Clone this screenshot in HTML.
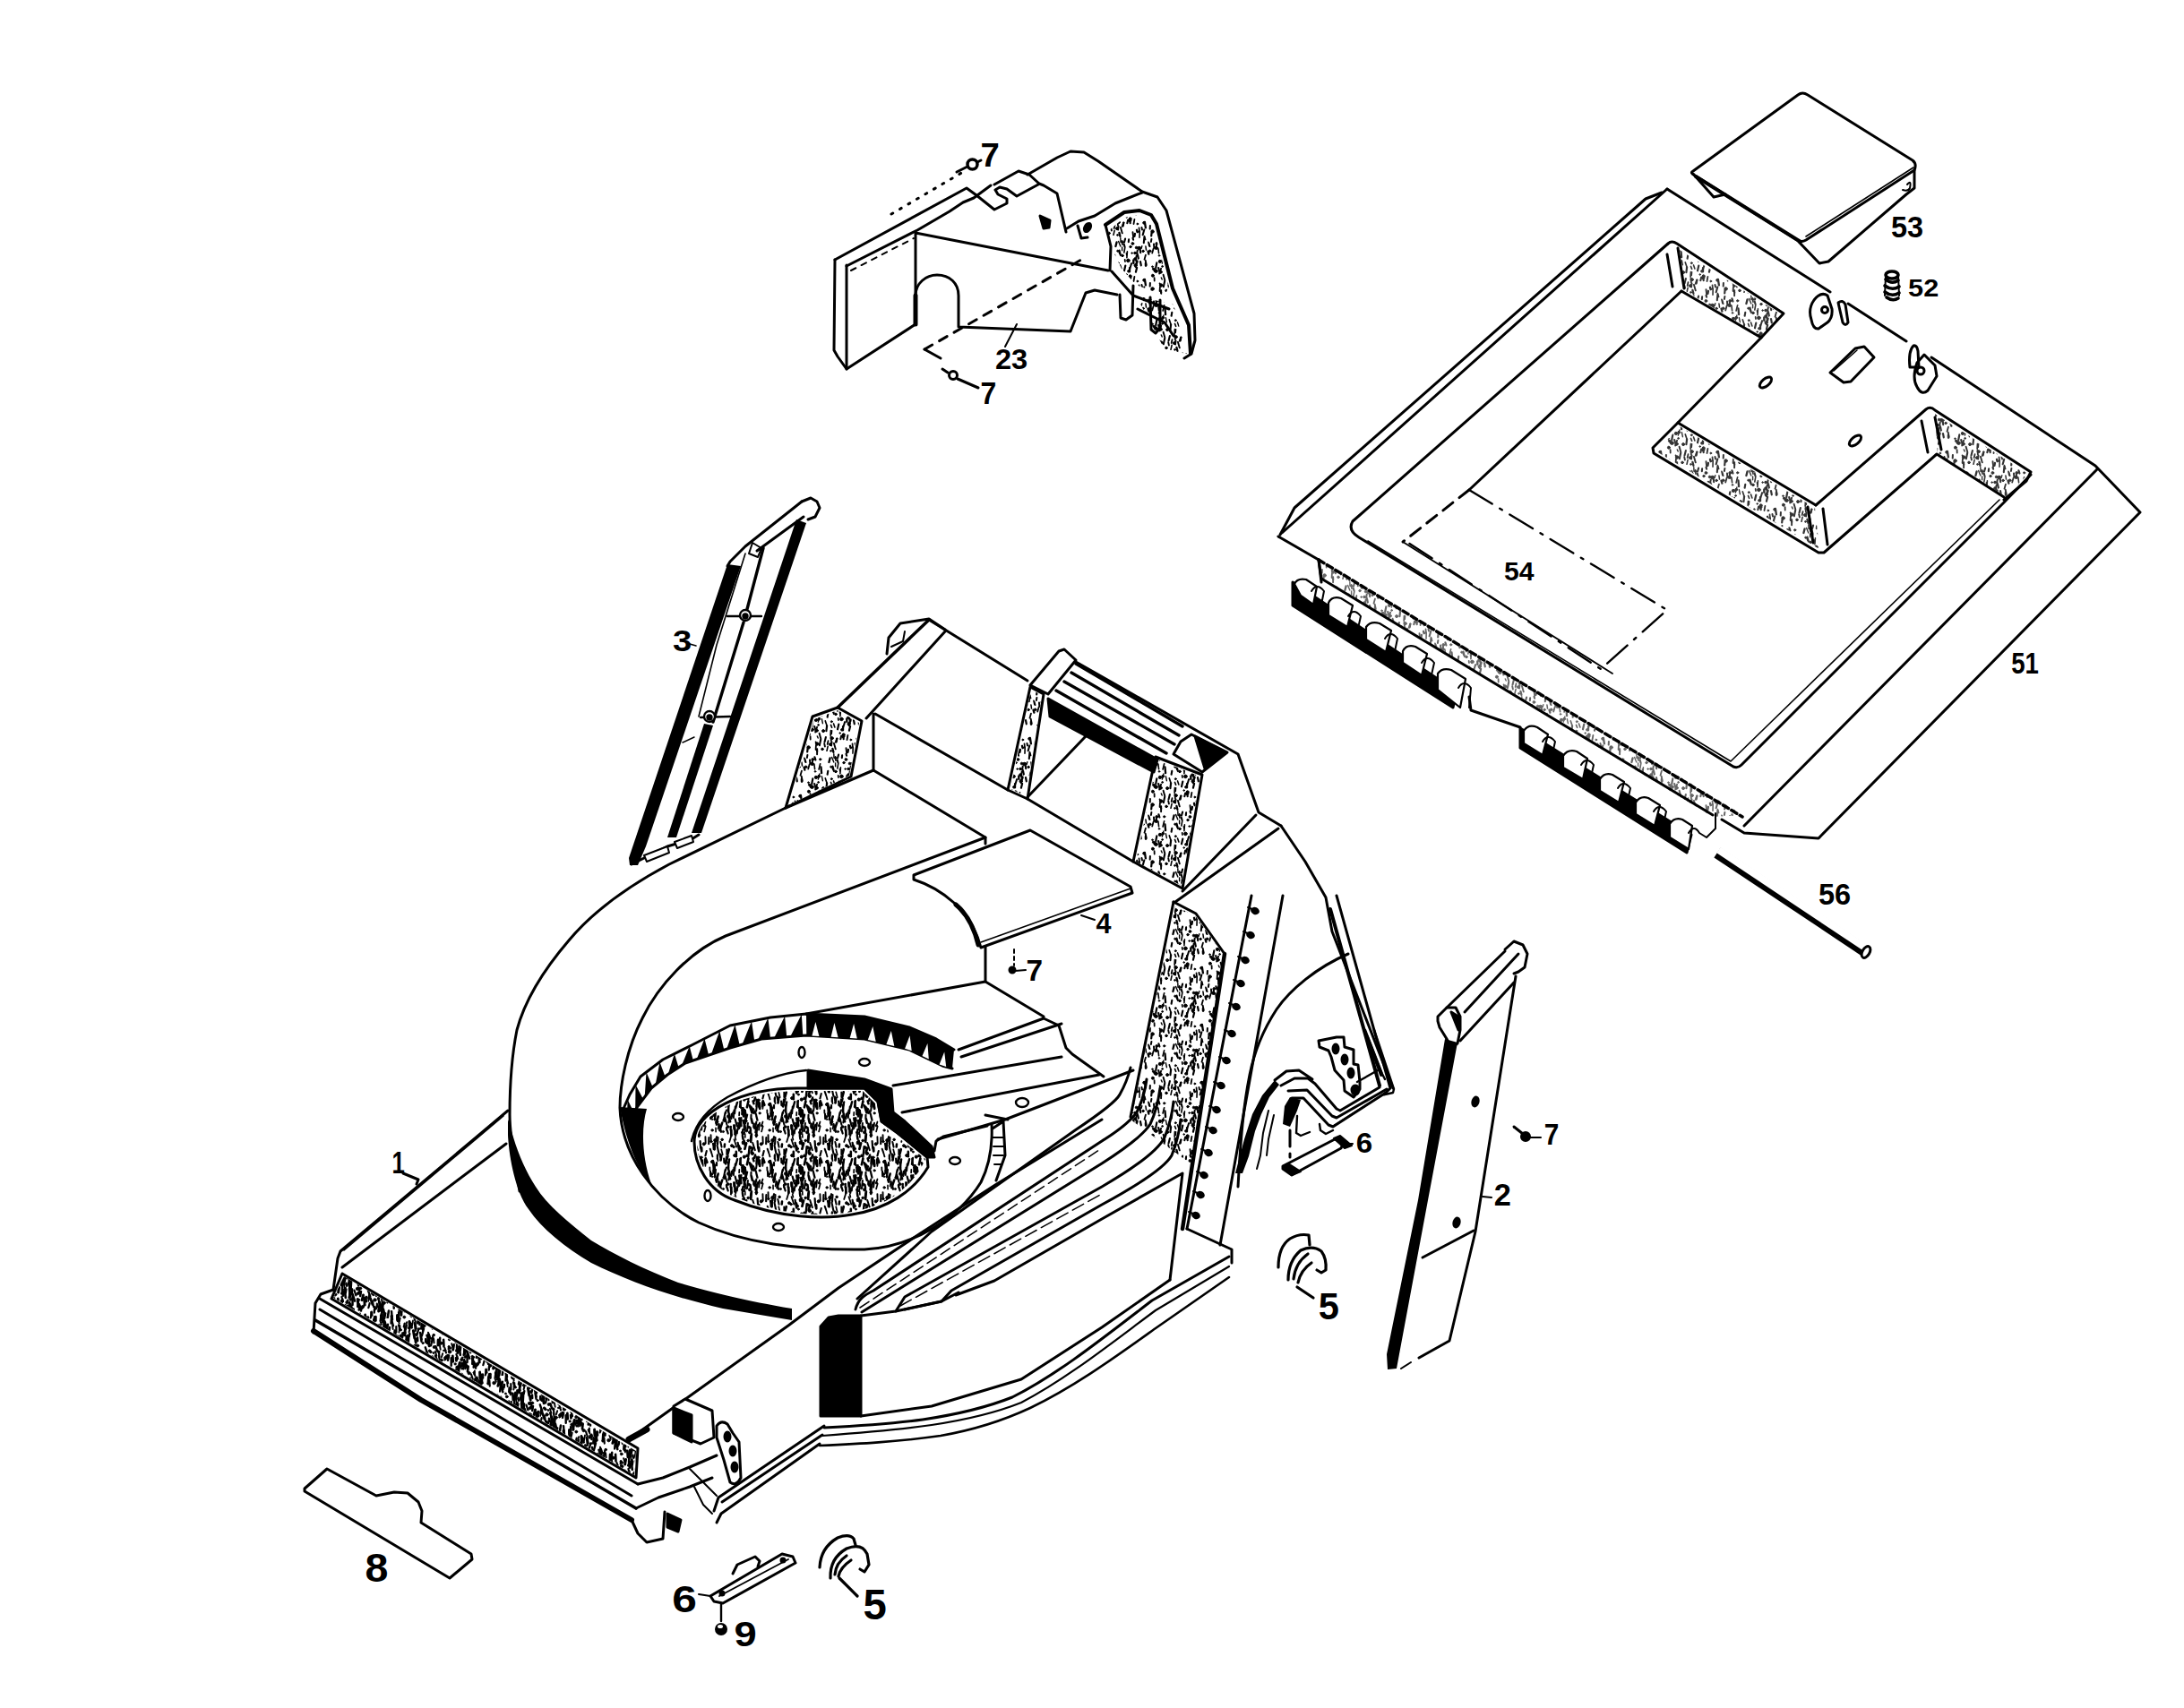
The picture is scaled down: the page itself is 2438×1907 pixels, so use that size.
<!DOCTYPE html>
<html><head><meta charset="utf-8"><style>
html,body{margin:0;padding:0;background:#fff;}
svg{display:block;}
text{font-family:"Liberation Sans",sans-serif;font-weight:bold;fill:#000;}
</style></head><body>
<svg width="2438" height="1907" viewBox="0 0 2438 1907" xmlns="http://www.w3.org/2000/svg">
<defs>
<pattern id="st" width="64" height="64" patternUnits="userSpaceOnUse"><g fill="#000" stroke="#000" stroke-linecap="round"><path d="M8.6,54.2L8.7,57.5" stroke-width="1.8"/><circle cx="41.7" cy="50.5" r="0.8"/><path d="M53.5,27.7L53.6,29.7" stroke-width="2.1"/><path d="M14.6,-3.5L15.4,-1.5" stroke-width="1.9"/><path d="M14.6,60.5L15.4,62.5" stroke-width="1.9"/><circle cx="60.1" cy="24.4" r="1.2"/><path d="M1.9,14.2L2.8,18.6" stroke-width="1.6"/><path d="M65.9,14.2L66.8,18.6" stroke-width="1.6"/><circle cx="14.0" cy="29.4" r="0.8"/><path d="M53.6,35.6L52.7,38.4" stroke-width="2.3"/><path d="M7.7,21.3L6.2,26.6" stroke-width="1.8"/><path d="M71.7,21.3L70.2,26.6" stroke-width="1.8"/><path d="M53.1,42.9L51.9,47.7" stroke-width="2.2"/><circle cx="32.3" cy="37.7" r="1.0"/><circle cx="51.0" cy="26.5" r="1.3"/><path d="M45.0,43.2L45.1,47.4" stroke-width="2.2"/><path d="M33.3,25.2L34.1,27.2" stroke-width="2.1"/><path d="M-1.1,38.0L-1.0,40.8" stroke-width="2.4"/><path d="M62.9,38.0L63.0,40.8" stroke-width="2.4"/><path d="M49.3,34.5L49.3,37.7" stroke-width="2.4"/><circle cx="37.0" cy="29.4" r="1.3"/><path d="M-2.7,0.4L-4.3,6.3" stroke-width="2.1"/><path d="M-2.7,64.4L-4.3,70.3" stroke-width="2.1"/><path d="M61.3,0.4L59.7,6.3" stroke-width="2.1"/><path d="M61.3,64.4L59.7,70.3" stroke-width="2.1"/><path d="M51.8,33.2L53.1,37.1" stroke-width="2.3"/><path d="M36.5,12.8L37.0,17.2" stroke-width="1.7"/><path d="M34.5,39.9L35.9,43.9" stroke-width="1.6"/><path d="M11.3,37.4L10.2,43.3" stroke-width="2.2"/><path d="M16.3,53.9L17.2,56.1" stroke-width="1.4"/><circle cx="48.4" cy="16.0" r="1.4"/><circle cx="22.0" cy="4.4" r="1.3"/><path d="M10.8,17.5L11.4,21.7" stroke-width="1.9"/><path d="M1.5,24.7L2.4,27.6" stroke-width="2.3"/><path d="M65.5,24.7L66.4,27.6" stroke-width="2.3"/><path d="M32.6,13.4L34.8,19.1" stroke-width="1.4"/><circle cx="9.4" cy="46.0" r="1.5"/><circle cx="43.4" cy="34.9" r="1.8"/><circle cx="51.1" cy="33.1" r="1.4"/><path d="M25.3,36.9L26.9,41.7" stroke-width="1.7"/><path d="M-2.1,-8.0L-1.1,-1.7" stroke-width="2.3"/><path d="M-2.1,56.0L-1.1,62.3" stroke-width="2.3"/><path d="M61.9,-8.0L62.9,-1.7" stroke-width="2.3"/><path d="M61.9,56.0L62.9,62.3" stroke-width="2.3"/><circle cx="47.6" cy="26.6" r="0.8"/><path d="M-7.8,2.4L-8.0,9.2" stroke-width="1.6"/><path d="M-7.8,66.4L-8.0,73.2" stroke-width="1.6"/><path d="M56.2,2.4L56.0,9.2" stroke-width="1.6"/><path d="M56.2,66.4L56.0,73.2" stroke-width="1.6"/><path d="M55.5,-1.7L56.0,2.8" stroke-width="1.7"/><path d="M55.5,62.3L56.0,66.8" stroke-width="1.7"/><path d="M13.2,43.1L14.0,46.0" stroke-width="2.1"/><path d="M18.9,32.0L17.3,38.1" stroke-width="1.4"/><path d="M12.9,21.0L13.6,26.8" stroke-width="1.6"/><path d="M43.2,53.6L42.3,57.2" stroke-width="2.1"/><circle cx="31.0" cy="-0.9" r="1.5"/><circle cx="31.0" cy="63.1" r="1.5"/><path d="M5.4,10.9L4.9,13.9" stroke-width="2.0"/><path d="M69.4,10.9L68.9,13.9" stroke-width="2.0"/><path d="M53.8,23.6L53.0,26.9" stroke-width="2.0"/><circle cx="-2.9" cy="56.8" r="1.4"/><circle cx="61.1" cy="56.8" r="1.4"/><circle cx="6.7" cy="2.5" r="1.7"/><circle cx="6.7" cy="66.5" r="1.7"/><path d="M50.4,53.0L49.5,58.0" stroke-width="1.8"/><circle cx="36.5" cy="14.3" r="1.1"/><path d="M-7.0,36.1L-6.2,40.3" stroke-width="2.2"/><path d="M57.0,36.1L57.8,40.3" stroke-width="2.2"/><path d="M53.0,0.8L53.7,3.1" stroke-width="2.3"/><path d="M53.0,64.8L53.7,67.1" stroke-width="2.3"/><path d="M2.6,15.3L3.7,19.3" stroke-width="1.6"/><path d="M66.6,15.3L67.7,19.3" stroke-width="1.6"/><circle cx="15.5" cy="47.6" r="1.7"/><path d="M24.2,-1.9L24.9,1.5" stroke-width="1.9"/><path d="M24.2,62.1L24.9,65.5" stroke-width="1.9"/><circle cx="6.4" cy="41.7" r="0.8"/><path d="M-1.1,18.9L-0.5,23.1" stroke-width="1.5"/><path d="M62.9,18.9L63.5,23.1" stroke-width="1.5"/><path d="M-5.5,-1.9L-5.0,0.6" stroke-width="2.0"/><path d="M-5.5,62.1L-5.0,64.6" stroke-width="2.0"/><path d="M58.5,-1.9L59.0,0.6" stroke-width="2.0"/><path d="M58.5,62.1L59.0,64.6" stroke-width="2.0"/><path d="M-1.3,34.7L-0.3,40.0" stroke-width="1.9"/><path d="M62.7,34.7L63.7,40.0" stroke-width="1.9"/><circle cx="19.7" cy="15.8" r="1.1"/><path d="M-1.1,28.7L-2.5,33.7" stroke-width="1.8"/><path d="M62.9,28.7L61.5,33.7" stroke-width="1.8"/><path d="M19.6,20.9L18.1,27.0" stroke-width="1.7"/><path d="M21.4,34.8L22.4,39.7" stroke-width="1.4"/><path d="M15.6,4.6L16.3,6.9" stroke-width="2.0"/><path d="M15.6,68.6L16.3,70.9" stroke-width="2.0"/><path d="M18.6,50.7L20.3,56.8" stroke-width="1.9"/><path d="M50.9,4.9L50.4,7.8" stroke-width="2.4"/><path d="M50.9,68.9L50.4,71.8" stroke-width="2.4"/><circle cx="52.6" cy="20.5" r="1.3"/><path d="M-5.2,18.8L-5.9,21.4" stroke-width="1.4"/><path d="M58.8,18.8L58.1,21.4" stroke-width="1.4"/><path d="M20.2,-6.2L18.8,0.2" stroke-width="2.1"/><path d="M20.2,57.8L18.8,64.2" stroke-width="2.1"/><path d="M44.1,11.4L43.8,14.2" stroke-width="2.1"/><path d="M16.2,4.1L16.1,10.2" stroke-width="1.9"/><path d="M16.2,68.1L16.1,74.2" stroke-width="1.9"/><path d="M54.5,29.0L55.2,32.6" stroke-width="1.4"/><path d="M41.4,26.7L41.7,29.0" stroke-width="1.5"/><path d="M8.0,16.6L8.4,20.6" stroke-width="2.0"/><path d="M14.9,0.5L14.6,5.0" stroke-width="1.8"/><path d="M14.9,64.5L14.6,69.0" stroke-width="1.8"/><circle cx="43.9" cy="46.8" r="1.3"/><path d="M30.6,14.4L29.4,19.0" stroke-width="2.3"/><circle cx="17.6" cy="41.4" r="0.9"/><circle cx="32.7" cy="56.2" r="1.6"/><path d="M-7.5,20.0L-6.8,26.2" stroke-width="2.1"/><path d="M56.5,20.0L57.2,26.2" stroke-width="2.1"/><path d="M47.1,38.1L45.2,44.2" stroke-width="2.0"/><circle cx="11.3" cy="16.0" r="1.4"/><path d="M48.5,3.3L49.2,8.9" stroke-width="1.9"/><path d="M48.5,67.3L49.2,72.9" stroke-width="1.9"/><circle cx="10.5" cy="46.7" r="1.8"/><circle cx="51.7" cy="40.2" r="1.7"/><path d="M-2.6,8.9L-3.2,15.1" stroke-width="2.1"/><path d="M61.4,8.9L60.8,15.1" stroke-width="2.1"/><path d="M28.5,-4.8L27.7,-1.0" stroke-width="1.8"/><path d="M28.5,59.2L27.7,63.0" stroke-width="1.8"/><circle cx="10.5" cy="20.8" r="1.7"/><path d="M-2.6,7.6L-1.4,11.5" stroke-width="1.7"/><path d="M-2.6,71.6L-1.4,75.5" stroke-width="1.7"/><path d="M61.4,7.6L62.6,11.5" stroke-width="1.7"/><path d="M61.4,71.6L62.6,75.5" stroke-width="1.7"/><circle cx="15.9" cy="48.0" r="1.0"/><path d="M28.1,1.3L27.0,6.3" stroke-width="1.6"/><path d="M28.1,65.3L27.0,70.3" stroke-width="1.6"/><circle cx="18.2" cy="34.7" r="1.4"/><path d="M16.1,43.7L14.2,49.5" stroke-width="1.9"/><path d="M31.4,54.8L31.9,59.6" stroke-width="1.7"/><circle cx="6.9" cy="51.7" r="1.5"/><path d="M34.9,-2.2L36.8,4.4" stroke-width="1.9"/><path d="M34.9,61.8L36.8,68.4" stroke-width="1.9"/><path d="M36.6,19.9L36.6,23.7" stroke-width="1.4"/><path d="M28.3,28.8L27.6,32.7" stroke-width="2.1"/><path d="M31.5,41.5L32.6,44.3" stroke-width="1.7"/><path d="M38.3,-7.6L36.8,-3.3" stroke-width="1.9"/><path d="M38.3,56.4L36.8,60.7" stroke-width="1.9"/><path d="M53.4,26.2L54.5,33.0" stroke-width="1.6"/><path d="M39.7,34.0L39.9,36.0" stroke-width="1.8"/><path d="M25.9,55.1L24.5,60.6" stroke-width="2.1"/><path d="M31.5,47.7L31.2,53.0" stroke-width="1.8"/><path d="M40.3,40.6L39.0,46.3" stroke-width="2.2"/><path d="M52.2,38.7L51.8,42.0" stroke-width="2.3"/><path d="M34.8,9.7L35.0,14.2" stroke-width="1.4"/><path d="M32.7,47.7L32.3,51.4" stroke-width="1.4"/><path d="M32.5,-3.4L32.0,0.5" stroke-width="2.0"/><path d="M32.5,60.6L32.0,64.5" stroke-width="2.0"/><path d="M13.4,13.3L14.4,16.5" stroke-width="2.2"/><path d="M33.5,23.6L34.9,29.1" stroke-width="2.1"/><circle cx="45.7" cy="52.2" r="1.4"/><circle cx="14.9" cy="35.9" r="1.6"/><circle cx="55.5" cy="21.1" r="1.8"/><circle cx="45.2" cy="54.0" r="1.7"/><path d="M39.8,20.3L38.8,26.0" stroke-width="1.6"/><path d="M40.1,10.6L38.9,14.7" stroke-width="2.1"/><path d="M38.8,16.8L39.5,19.4" stroke-width="2.1"/><circle cx="23.1" cy="48.1" r="1.5"/><circle cx="46.0" cy="19.6" r="1.2"/><circle cx="31.5" cy="6.4" r="0.9"/><circle cx="38.2" cy="56.9" r="0.8"/><path d="M45.1,52.2L45.7,57.2" stroke-width="2.2"/><circle cx="7.6" cy="44.3" r="1.2"/><circle cx="31.7" cy="24.2" r="1.0"/><path d="M52.5,29.6L52.1,32.6" stroke-width="1.7"/><path d="M38.0,-5.8L37.6,-3.6" stroke-width="2.3"/><path d="M38.0,58.2L37.6,60.4" stroke-width="2.3"/><path d="M20.5,24.5L21.1,31.1" stroke-width="2.3"/><path d="M48.5,9.7L49.1,11.7" stroke-width="2.1"/><circle cx="3.7" cy="24.3" r="1.3"/><circle cx="53.8" cy="58.0" r="0.9"/><circle cx="53.8" cy="2.7" r="0.9"/><circle cx="53.8" cy="66.7" r="0.9"/><path d="M5.8,1.8L5.2,7.5" stroke-width="2.2"/><path d="M5.8,65.8L5.2,71.5" stroke-width="2.2"/><path d="M69.8,1.8L69.2,7.5" stroke-width="2.2"/><path d="M69.8,65.8L69.2,71.5" stroke-width="2.2"/><path d="M42.4,24.9L41.9,31.8" stroke-width="1.6"/><path d="M3.9,-4.1L3.7,-0.4" stroke-width="2.0"/><path d="M3.9,59.9L3.7,63.6" stroke-width="2.0"/><path d="M67.9,-4.1L67.7,-0.4" stroke-width="2.0"/><path d="M67.9,59.9L67.7,63.6" stroke-width="2.0"/><path d="M33.4,3.9L34.4,7.8" stroke-width="2.3"/><path d="M33.4,67.9L34.4,71.8" stroke-width="2.3"/><path d="M27.1,42.4L26.4,48.1" stroke-width="2.2"/><circle cx="16.1" cy="-1.5" r="1.7"/><circle cx="16.1" cy="62.5" r="1.7"/></g></pattern>
<pattern id="sd" width="64" height="64" patternUnits="userSpaceOnUse"><g fill="#000" stroke="#000" stroke-linecap="round"><circle cx="-2.8" cy="60.7" r="0.9"/><circle cx="61.2" cy="60.7" r="0.9"/><path d="M53.5,47.1L53.2,51.9" stroke-width="2.3"/><path d="M37.2,10.1L36.5,15.4" stroke-width="2.8"/><path d="M-3.2,34.8L-1.7,39.2" stroke-width="1.6"/><path d="M60.8,34.8L62.3,39.2" stroke-width="1.6"/><path d="M29.8,20.4L29.8,28.7" stroke-width="2.3"/><path d="M15.1,1.5L15.2,5.3" stroke-width="2.8"/><path d="M15.1,65.5L15.2,69.3" stroke-width="2.8"/><path d="M43.2,11.6L42.1,19.3" stroke-width="2.7"/><path d="M48.8,50.5L46.2,59.0" stroke-width="1.8"/><path d="M48.3,45.8L48.4,51.9" stroke-width="2.7"/><path d="M32.1,53.2L29.9,61.2" stroke-width="2.2"/><path d="M36.3,-5.1L37.6,0.7" stroke-width="2.0"/><path d="M36.3,58.9L37.6,64.7" stroke-width="2.0"/><path d="M44.8,10.6L43.6,15.1" stroke-width="2.0"/><path d="M-2.7,45.2L-3.2,51.3" stroke-width="2.3"/><path d="M61.3,45.2L60.8,51.3" stroke-width="2.3"/><path d="M20.0,13.3L19.4,21.9" stroke-width="1.7"/><path d="M52.5,46.5L51.9,50.6" stroke-width="1.7"/><circle cx="41.8" cy="17.5" r="1.7"/><path d="M6.8,33.4L7.8,37.8" stroke-width="2.7"/><path d="M70.8,33.4L71.8,37.8" stroke-width="2.7"/><circle cx="27.1" cy="45.9" r="1.2"/><circle cx="11.0" cy="43.1" r="1.8"/><circle cx="1.6" cy="46.7" r="1.1"/><circle cx="65.6" cy="46.7" r="1.1"/><circle cx="52.1" cy="10.1" r="1.5"/><path d="M24.7,2.8L26.0,6.4" stroke-width="2.0"/><path d="M24.7,66.8L26.0,70.4" stroke-width="2.0"/><circle cx="39.4" cy="47.5" r="1.1"/><path d="M2.0,28.7L0.1,35.9" stroke-width="2.5"/><path d="M66.0,28.7L64.1,35.9" stroke-width="2.5"/><path d="M55.2,45.1L54.8,49.5" stroke-width="2.0"/><path d="M6.5,28.7L6.4,32.4" stroke-width="2.1"/><path d="M70.5,28.7L70.4,32.4" stroke-width="2.1"/><path d="M32.9,9.2L32.7,13.8" stroke-width="2.1"/><circle cx="1.2" cy="35.7" r="0.9"/><circle cx="65.2" cy="35.7" r="0.9"/><circle cx="2.1" cy="10.3" r="1.4"/><circle cx="66.1" cy="10.3" r="1.4"/><path d="M32.5,-1.1L34.4,7.7" stroke-width="2.1"/><path d="M32.5,62.9L34.4,71.7" stroke-width="2.1"/><path d="M16.0,37.8L15.1,45.6" stroke-width="1.9"/><circle cx="27.1" cy="33.7" r="0.8"/><path d="M26.2,7.1L27.5,11.4" stroke-width="1.8"/><path d="M26.2,71.1L27.5,75.4" stroke-width="1.8"/><path d="M14.8,13.9L15.7,19.6" stroke-width="2.4"/><path d="M13.6,-6.0L14.1,1.4" stroke-width="2.2"/><path d="M13.6,58.0L14.1,65.4" stroke-width="2.2"/><path d="M37.2,3.3L38.7,9.2" stroke-width="1.7"/><path d="M37.2,67.3L38.7,73.2" stroke-width="1.7"/><path d="M51.4,23.4L50.9,32.0" stroke-width="1.9"/><circle cx="-1.1" cy="23.8" r="1.5"/><circle cx="62.9" cy="23.8" r="1.5"/><path d="M6.5,19.6L9.0,26.2" stroke-width="2.1"/><path d="M70.5,19.6L73.0,26.2" stroke-width="2.1"/><circle cx="26.3" cy="31.1" r="1.4"/><path d="M4.7,18.2L7.4,26.4" stroke-width="2.5"/><path d="M68.7,18.2L71.4,26.4" stroke-width="2.5"/><path d="M12.3,36.6L11.4,42.3" stroke-width="2.1"/><circle cx="7.8" cy="7.8" r="1.7"/><path d="M41.0,-2.6L40.7,0.6" stroke-width="2.5"/><path d="M41.0,61.4L40.7,64.6" stroke-width="2.5"/><path d="M46.3,31.9L45.2,37.5" stroke-width="1.9"/><path d="M33.7,30.6L31.5,38.1" stroke-width="2.6"/><path d="M19.0,14.8L19.3,19.4" stroke-width="2.4"/><path d="M-5.2,37.5L-4.8,41.0" stroke-width="2.8"/><path d="M58.8,37.5L59.2,41.0" stroke-width="2.8"/><circle cx="9.4" cy="26.7" r="0.9"/><path d="M-6.7,-0.7L-6.1,3.0" stroke-width="1.9"/><path d="M-6.7,63.3L-6.1,67.0" stroke-width="1.9"/><path d="M57.3,-0.7L57.9,3.0" stroke-width="1.9"/><path d="M57.3,63.3L57.9,67.0" stroke-width="1.9"/><path d="M42.9,43.6L44.7,49.5" stroke-width="2.2"/><circle cx="60.8" cy="48.4" r="1.3"/><path d="M45.8,16.5L45.1,22.2" stroke-width="2.1"/><path d="M-0.3,50.1L-0.1,54.0" stroke-width="1.6"/><path d="M63.7,50.1L63.9,54.0" stroke-width="1.6"/><circle cx="38.1" cy="56.4" r="1.3"/><path d="M30.9,25.9L29.8,34.5" stroke-width="2.2"/><path d="M-2.4,21.2L-3.6,28.0" stroke-width="2.6"/><path d="M61.6,21.2L60.4,28.0" stroke-width="2.6"/><path d="M14.4,39.8L12.2,46.4" stroke-width="2.4"/><path d="M0.7,29.7L0.0,38.0" stroke-width="2.6"/><path d="M64.7,29.7L64.0,38.0" stroke-width="2.6"/><path d="M1.1,-3.6L-0.6,2.8" stroke-width="2.7"/><path d="M1.1,60.4L-0.6,66.8" stroke-width="2.7"/><path d="M65.1,-3.6L63.4,2.8" stroke-width="2.7"/><path d="M65.1,60.4L63.4,66.8" stroke-width="2.7"/><path d="M6.4,52.2L5.8,56.3" stroke-width="2.3"/><path d="M70.4,52.2L69.8,56.3" stroke-width="2.3"/><circle cx="12.3" cy="51.5" r="1.4"/><path d="M27.8,16.2L29.1,21.9" stroke-width="2.8"/><path d="M4.7,0.2L3.9,8.2" stroke-width="2.5"/><path d="M4.7,64.2L3.9,72.2" stroke-width="2.5"/><path d="M68.7,0.2L67.9,8.2" stroke-width="2.5"/><path d="M68.7,64.2L67.9,72.2" stroke-width="2.5"/><path d="M31.0,43.2L31.1,47.8" stroke-width="1.6"/><circle cx="5.1" cy="48.3" r="1.6"/><path d="M50.2,25.9L48.4,33.4" stroke-width="1.8"/><path d="M10.4,24.4L12.1,28.9" stroke-width="2.3"/><path d="M-2.1,23.5L-1.8,28.7" stroke-width="2.6"/><path d="M61.9,23.5L62.2,28.7" stroke-width="2.6"/><path d="M19.7,41.5L18.1,47.5" stroke-width="1.7"/><path d="M52.8,19.5L52.1,27.2" stroke-width="2.1"/><path d="M53.8,5.9L53.8,11.3" stroke-width="2.6"/><path d="M53.8,69.9L53.8,75.3" stroke-width="2.6"/><path d="M51.1,40.2L51.3,44.6" stroke-width="1.9"/><circle cx="17.8" cy="-2.7" r="1.6"/><circle cx="17.8" cy="61.3" r="1.6"/><path d="M24.3,23.3L24.4,26.8" stroke-width="1.8"/><path d="M28.3,18.7L28.8,27.2" stroke-width="2.4"/><circle cx="59.5" cy="20.9" r="1.0"/><path d="M12.1,43.4L11.2,48.5" stroke-width="1.9"/><path d="M51.7,40.5L52.8,48.4" stroke-width="2.7"/><path d="M-4.7,32.2L-6.0,40.8" stroke-width="2.5"/><path d="M59.3,32.2L58.0,40.8" stroke-width="2.5"/><path d="M55.6,-4.1L57.1,4.6" stroke-width="2.3"/><path d="M55.6,59.9L57.1,68.6" stroke-width="2.3"/><path d="M42.9,23.5L41.7,27.4" stroke-width="2.0"/><circle cx="30.5" cy="57.2" r="1.8"/><path d="M8.1,1.8L6.7,6.8" stroke-width="2.7"/><path d="M8.1,65.8L6.7,70.8" stroke-width="2.7"/><path d="M48.7,27.9L47.8,32.3" stroke-width="2.1"/><circle cx="18.2" cy="40.8" r="1.1"/><circle cx="59.3" cy="6.1" r="1.0"/><circle cx="16.1" cy="26.9" r="1.1"/><path d="M15.8,15.4L16.3,20.4" stroke-width="2.5"/><path d="M3.9,9.2L3.0,14.7" stroke-width="1.8"/><path d="M67.9,9.2L67.0,14.7" stroke-width="1.8"/><path d="M33.5,54.1L33.0,61.7" stroke-width="2.1"/><path d="M-0.2,25.1L0.8,31.7" stroke-width="2.6"/><path d="M63.8,25.1L64.8,31.7" stroke-width="2.6"/><path d="M38.2,37.6L35.4,46.1" stroke-width="2.6"/><path d="M29.1,26.4L30.0,29.5" stroke-width="2.8"/><path d="M8.2,-4.0L10.8,4.1" stroke-width="2.0"/><path d="M8.2,60.0L10.8,68.1" stroke-width="2.0"/><circle cx="51.1" cy="0.6" r="1.2"/><circle cx="51.1" cy="64.6" r="1.2"/><path d="M11.1,9.4L10.0,12.8" stroke-width="2.4"/><circle cx="3.2" cy="57.5" r="1.3"/><path d="M35.8,8.9L36.5,12.1" stroke-width="2.7"/><path d="M52.6,33.5L54.8,41.4" stroke-width="2.2"/><circle cx="8.4" cy="7.5" r="1.0"/><path d="M3.4,13.8L1.9,20.3" stroke-width="2.7"/><path d="M67.4,13.8L65.9,20.3" stroke-width="2.7"/><path d="M45.9,32.5L47.1,36.3" stroke-width="2.6"/><path d="M40.1,13.5L40.5,18.2" stroke-width="2.1"/><path d="M25.5,51.1L25.7,57.4" stroke-width="1.9"/><circle cx="49.0" cy="-0.8" r="1.5"/><circle cx="49.0" cy="63.2" r="1.5"/><circle cx="44.7" cy="42.1" r="1.4"/><path d="M12.9,12.4L12.5,19.3" stroke-width="2.5"/><circle cx="45.0" cy="30.4" r="1.6"/><path d="M52.7,53.5L53.4,56.6" stroke-width="1.7"/><circle cx="40.7" cy="34.8" r="1.8"/><path d="M-1.4,-6.4L-0.4,-1.8" stroke-width="2.6"/><path d="M-1.4,57.6L-0.4,62.2" stroke-width="2.6"/><path d="M62.6,-6.4L63.6,-1.8" stroke-width="2.6"/><path d="M62.6,57.6L63.6,62.2" stroke-width="2.6"/><path d="M44.9,17.7L45.4,24.1" stroke-width="2.1"/><path d="M46.1,29.1L45.7,32.8" stroke-width="1.9"/><path d="M-5.7,13.7L-5.1,19.9" stroke-width="2.2"/><path d="M58.3,13.7L58.9,19.9" stroke-width="2.2"/><path d="M-4.9,12.9L-6.2,19.9" stroke-width="2.1"/><path d="M59.1,12.9L57.8,19.9" stroke-width="2.1"/><path d="M29.1,22.1L30.2,26.5" stroke-width="2.2"/><path d="M12.3,30.0L13.5,34.7" stroke-width="2.3"/><path d="M55.1,14.2L53.3,21.0" stroke-width="2.4"/><path d="M19.7,13.3L21.4,17.8" stroke-width="2.6"/><path d="M12.7,20.0L12.1,24.5" stroke-width="2.0"/><path d="M28.2,26.8L28.1,29.9" stroke-width="1.8"/><path d="M9.6,38.8L9.5,42.2" stroke-width="2.7"/><path d="M41.3,31.7L43.5,39.9" stroke-width="2.0"/><circle cx="-2.3" cy="59.3" r="1.5"/><circle cx="61.7" cy="59.3" r="1.5"/><path d="M56.0,37.8L57.2,43.9" stroke-width="1.9"/><circle cx="4.0" cy="42.6" r="1.4"/><path d="M25.0,27.9L25.2,33.3" stroke-width="2.1"/><path d="M13.8,14.3L16.2,21.9" stroke-width="2.7"/><path d="M43.2,3.4L43.2,8.9" stroke-width="1.7"/><path d="M43.2,67.4L43.2,72.9" stroke-width="1.7"/><path d="M32.7,33.3L31.9,39.7" stroke-width="2.5"/><path d="M14.2,1.6L15.2,5.2" stroke-width="2.0"/><path d="M14.2,65.6L15.2,69.2" stroke-width="2.0"/><path d="M34.4,39.4L37.0,47.7" stroke-width="2.3"/><path d="M5.5,42.9L6.1,46.7" stroke-width="2.4"/><path d="M69.5,42.9L70.1,46.7" stroke-width="2.4"/><path d="M30.3,-3.6L28.9,1.3" stroke-width="2.3"/><path d="M30.3,60.4L28.9,65.3" stroke-width="2.3"/><path d="M6.9,50.2L6.2,58.9" stroke-width="2.6"/><path d="M70.9,50.2L70.2,58.9" stroke-width="2.6"/><path d="M-6.7,32.6L-6.2,35.7" stroke-width="2.6"/><path d="M57.3,32.6L57.8,35.7" stroke-width="2.6"/><path d="M0.5,43.0L-1.2,50.1" stroke-width="1.7"/><path d="M64.5,43.0L62.8,50.1" stroke-width="1.7"/><path d="M34.6,39.0L33.6,44.4" stroke-width="1.8"/><path d="M2.9,38.0L2.1,45.9" stroke-width="2.0"/><path d="M66.9,38.0L66.1,45.9" stroke-width="2.0"/><circle cx="57.9" cy="2.6" r="1.6"/><circle cx="57.9" cy="66.6" r="1.6"/><path d="M-6.7,25.8L-6.9,29.4" stroke-width="1.7"/><path d="M57.3,25.8L57.1,29.4" stroke-width="1.7"/><circle cx="14.9" cy="12.2" r="1.2"/><path d="M32.0,18.0L32.0,21.3" stroke-width="2.2"/><circle cx="25.8" cy="58.5" r="1.2"/><path d="M29.4,23.9L29.5,30.3" stroke-width="2.1"/><path d="M28.0,-3.1L29.7,3.5" stroke-width="2.3"/><path d="M28.0,60.9L29.7,67.5" stroke-width="2.3"/><circle cx="8.2" cy="22.5" r="1.5"/><path d="M-1.4,40.8L-1.2,45.3" stroke-width="2.2"/><path d="M62.6,40.8L62.8,45.3" stroke-width="2.2"/><circle cx="27.1" cy="17.2" r="1.6"/><path d="M-3.0,52.6L-2.5,55.7" stroke-width="2.6"/><path d="M61.0,52.6L61.5,55.7" stroke-width="2.6"/><path d="M-1.7,35.1L-0.3,42.0" stroke-width="2.5"/><path d="M62.3,35.1L63.7,42.0" stroke-width="2.5"/><path d="M23.4,54.2L23.2,61.2" stroke-width="2.2"/><path d="M29.5,-3.1L29.6,2.5" stroke-width="2.7"/><path d="M29.5,60.9L29.6,66.5" stroke-width="2.7"/><path d="M47.8,41.8L47.6,45.5" stroke-width="2.3"/><path d="M29.1,-2.4L28.8,3.0" stroke-width="2.5"/><path d="M29.1,61.6L28.8,67.0" stroke-width="2.5"/><path d="M44.6,23.2L45.9,28.1" stroke-width="2.4"/><path d="M41.6,26.1L39.8,34.9" stroke-width="2.1"/><path d="M-5.7,36.5L-6.9,43.3" stroke-width="2.7"/><path d="M58.3,36.5L57.1,43.3" stroke-width="2.7"/><path d="M42.9,42.7L43.1,46.0" stroke-width="1.7"/><path d="M-3.7,23.2L-1.9,30.4" stroke-width="2.6"/><path d="M60.3,23.2L62.1,30.4" stroke-width="2.6"/><path d="M20.8,5.1L19.4,10.4" stroke-width="2.1"/><path d="M20.8,69.1L19.4,74.4" stroke-width="2.1"/><circle cx="6.0" cy="1.2" r="1.3"/><circle cx="6.0" cy="65.2" r="1.3"/><path d="M45.7,3.3L44.2,9.0" stroke-width="2.8"/><path d="M45.7,67.3L44.2,73.0" stroke-width="2.8"/><path d="M-8.0,40.9L-8.2,45.2" stroke-width="1.8"/><path d="M56.0,40.9L55.8,45.2" stroke-width="1.8"/><path d="M19.4,53.1L19.7,60.5" stroke-width="1.9"/><circle cx="32.2" cy="36.7" r="1.6"/><circle cx="-1.2" cy="11.6" r="1.6"/><circle cx="62.8" cy="11.6" r="1.6"/><path d="M46.2,14.4L45.2,18.7" stroke-width="2.3"/><path d="M32.7,10.3L33.4,16.1" stroke-width="1.8"/><path d="M12.7,44.8L12.2,52.9" stroke-width="2.5"/><path d="M8.6,13.4L9.5,16.3" stroke-width="2.5"/><path d="M12.6,11.8L15.5,19.3" stroke-width="2.7"/><path d="M19.5,36.5L18.4,40.1" stroke-width="1.8"/><path d="M51.5,-7.7L54.3,0.6" stroke-width="1.8"/><path d="M51.5,56.3L54.3,64.6" stroke-width="1.8"/></g></pattern>
<pattern id="sx" width="64" height="64" patternUnits="userSpaceOnUse"><g fill="#000" stroke="#000" stroke-linecap="round"><path d="M39.9,47.5L38.6,56.0" stroke-width="2.9"/><path d="M1.9,29.8L0.1,36.5" stroke-width="1.9"/><path d="M65.9,29.8L64.1,36.5" stroke-width="1.9"/><path d="M30.0,15.8L32.3,21.8" stroke-width="2.1"/><path d="M17.9,-5.4L17.2,-1.5" stroke-width="2.0"/><path d="M17.9,58.6L17.2,62.5" stroke-width="2.0"/><circle cx="39.5" cy="8.1" r="1.7"/><path d="M13.4,13.8L14.8,21.9" stroke-width="3.0"/><circle cx="34.5" cy="43.4" r="1.7"/><path d="M44.2,-2.1L44.8,2.6" stroke-width="2.0"/><path d="M44.2,61.9L44.8,66.6" stroke-width="2.0"/><path d="M9.3,4.2L11.7,10.3" stroke-width="2.6"/><path d="M9.3,68.2L11.7,74.3" stroke-width="2.6"/><path d="M21.6,19.8L22.5,25.7" stroke-width="2.4"/><path d="M45.1,3.6L44.6,6.7" stroke-width="2.8"/><path d="M45.1,67.6L44.6,70.7" stroke-width="2.8"/><path d="M1.2,50.4L3.5,56.5" stroke-width="1.9"/><path d="M65.2,50.4L67.5,56.5" stroke-width="1.9"/><circle cx="11.6" cy="-2.9" r="1.6"/><circle cx="11.6" cy="61.1" r="1.6"/><path d="M-4.5,-3.7L-4.5,1.4" stroke-width="2.7"/><path d="M-4.5,60.3L-4.5,65.4" stroke-width="2.7"/><path d="M59.5,-3.7L59.5,1.4" stroke-width="2.7"/><path d="M59.5,60.3L59.5,65.4" stroke-width="2.7"/><path d="M6.9,47.9L9.7,55.6" stroke-width="2.9"/><path d="M70.9,47.9L73.7,55.6" stroke-width="2.9"/><path d="M5.8,21.8L7.0,30.2" stroke-width="2.9"/><path d="M69.8,21.8L71.0,30.2" stroke-width="2.9"/><path d="M34.9,20.0L36.2,23.9" stroke-width="2.0"/><circle cx="44.1" cy="-0.2" r="0.8"/><circle cx="44.1" cy="63.8" r="0.8"/><path d="M-0.9,34.1L-1.1,38.6" stroke-width="2.8"/><path d="M63.1,34.1L62.9,38.6" stroke-width="2.8"/><circle cx="29.2" cy="27.0" r="1.7"/><path d="M2.1,31.6L1.6,35.3" stroke-width="2.9"/><path d="M66.1,31.6L65.6,35.3" stroke-width="2.9"/><circle cx="40.3" cy="50.4" r="1.2"/><circle cx="9.6" cy="54.1" r="1.3"/><path d="M-0.0,54.5L0.1,60.3" stroke-width="2.7"/><path d="M64.0,54.5L64.1,60.3" stroke-width="2.7"/><path d="M30.7,18.6L31.1,22.5" stroke-width="3.0"/><path d="M-2.6,40.1L-1.0,44.9" stroke-width="2.1"/><path d="M61.4,40.1L63.0,44.9" stroke-width="2.1"/><path d="M50.0,55.5L48.7,63.1" stroke-width="2.6"/><path d="M42.5,48.6L43.7,55.7" stroke-width="2.4"/><circle cx="49.3" cy="44.2" r="1.7"/><circle cx="41.6" cy="37.2" r="1.3"/><path d="M16.0,43.0L15.4,50.9" stroke-width="2.8"/><path d="M22.3,41.2L23.3,49.1" stroke-width="2.8"/><path d="M55.7,44.1L55.7,52.8" stroke-width="2.4"/><path d="M10.6,53.5L10.0,59.4" stroke-width="2.7"/><path d="M46.7,11.0L46.1,17.5" stroke-width="2.3"/><path d="M39.9,49.6L42.4,56.5" stroke-width="2.0"/><circle cx="28.2" cy="41.6" r="1.5"/><path d="M40.4,2.7L41.8,6.8" stroke-width="2.0"/><path d="M40.4,66.7L41.8,70.8" stroke-width="2.0"/><circle cx="20.3" cy="11.6" r="0.8"/><path d="M29.8,24.3L31.1,30.7" stroke-width="2.9"/><circle cx="0.0" cy="25.9" r="1.2"/><circle cx="64.0" cy="25.9" r="1.2"/><path d="M7.4,53.2L7.2,56.4" stroke-width="1.9"/><path d="M71.4,53.2L71.2,56.4" stroke-width="1.9"/><path d="M34.9,21.7L33.1,30.3" stroke-width="2.3"/><path d="M52.0,41.1L51.9,45.0" stroke-width="2.5"/><path d="M-2.7,-2.0L-4.0,2.9" stroke-width="1.8"/><path d="M-2.7,62.0L-4.0,66.9" stroke-width="1.8"/><path d="M61.3,-2.0L60.0,2.9" stroke-width="1.8"/><path d="M61.3,62.0L60.0,66.9" stroke-width="1.8"/><path d="M6.9,36.2L6.6,40.0" stroke-width="2.9"/><path d="M70.9,36.2L70.6,40.0" stroke-width="2.9"/><circle cx="24.1" cy="27.6" r="1.1"/><path d="M-1.8,24.3L-2.2,32.8" stroke-width="2.1"/><path d="M62.2,24.3L61.8,32.8" stroke-width="2.1"/><path d="M-1.2,31.8L-2.8,36.4" stroke-width="2.4"/><path d="M62.8,31.8L61.2,36.4" stroke-width="2.4"/><circle cx="18.3" cy="30.5" r="1.4"/><path d="M28.4,18.8L31.2,26.2" stroke-width="2.4"/><path d="M17.5,-4.1L18.3,0.3" stroke-width="2.0"/><path d="M17.5,59.9L18.3,64.3" stroke-width="2.0"/><path d="M-0.7,18.8L-1.2,24.6" stroke-width="2.5"/><path d="M63.3,18.8L62.8,24.6" stroke-width="2.5"/><path d="M47.6,7.6L47.6,12.4" stroke-width="2.2"/><path d="M47.6,71.6L47.6,76.4" stroke-width="2.2"/><path d="M19.0,33.9L18.2,39.0" stroke-width="2.5"/><path d="M2.3,16.2L0.2,24.4" stroke-width="2.5"/><path d="M66.3,16.2L64.2,24.4" stroke-width="2.5"/><path d="M0.9,49.8L0.1,56.2" stroke-width="2.6"/><path d="M64.9,49.8L64.1,56.2" stroke-width="2.6"/><path d="M30.8,-5.7L29.6,-0.4" stroke-width="2.0"/><path d="M30.8,58.3L29.6,63.6" stroke-width="2.0"/><circle cx="19.0" cy="53.1" r="1.6"/><circle cx="44.5" cy="27.7" r="1.6"/><path d="M-5.7,9.1L-5.6,15.4" stroke-width="2.2"/><path d="M58.3,9.1L58.4,15.4" stroke-width="2.2"/><path d="M9.8,37.5L10.5,40.8" stroke-width="2.8"/><circle cx="50.7" cy="42.5" r="1.5"/><path d="M-1.4,-0.1L-2.1,3.1" stroke-width="2.1"/><path d="M-1.4,63.9L-2.1,67.1" stroke-width="2.1"/><path d="M62.6,-0.1L61.9,3.1" stroke-width="2.1"/><path d="M62.6,63.9L61.9,67.1" stroke-width="2.1"/><path d="M41.3,-3.1L42.0,0.7" stroke-width="2.9"/><path d="M41.3,60.9L42.0,64.7" stroke-width="2.9"/><path d="M9.6,39.1L9.3,43.0" stroke-width="1.9"/><circle cx="6.9" cy="24.3" r="0.9"/><path d="M36.8,47.5L37.1,51.3" stroke-width="2.2"/><path d="M38.4,31.3L40.1,36.3" stroke-width="2.6"/><path d="M9.7,40.4L9.5,48.9" stroke-width="2.5"/><circle cx="16.8" cy="35.3" r="1.6"/><circle cx="33.1" cy="8.6" r="1.2"/><path d="M47.2,11.5L49.3,18.1" stroke-width="2.6"/><path d="M5.8,8.0L4.8,12.3" stroke-width="2.4"/><path d="M5.8,72.0L4.8,76.3" stroke-width="2.4"/><path d="M69.8,8.0L68.8,12.3" stroke-width="2.4"/><path d="M69.8,72.0L68.8,76.3" stroke-width="2.4"/><circle cx="20.7" cy="51.0" r="1.5"/><path d="M3.4,9.7L4.9,16.6" stroke-width="1.9"/><path d="M67.4,9.7L68.9,16.6" stroke-width="1.9"/><path d="M-1.7,42.6L-2.0,46.4" stroke-width="2.2"/><path d="M62.3,42.6L62.0,46.4" stroke-width="2.2"/><path d="M15.0,21.3L15.6,26.4" stroke-width="2.0"/><path d="M53.2,41.5L51.9,46.9" stroke-width="2.4"/><path d="M37.9,36.7L39.5,41.8" stroke-width="1.8"/><path d="M13.0,2.5L12.0,8.3" stroke-width="1.8"/><path d="M13.0,66.5L12.0,72.3" stroke-width="1.8"/><path d="M30.1,-7.1L30.3,-1.5" stroke-width="1.9"/><path d="M30.1,56.9L30.3,62.5" stroke-width="1.9"/><path d="M9.9,10.2L8.6,15.3" stroke-width="2.0"/><circle cx="16.3" cy="17.8" r="1.1"/><circle cx="15.1" cy="30.9" r="1.7"/><path d="M23.6,-4.0L23.9,3.1" stroke-width="2.9"/><path d="M23.6,60.0L23.9,67.1" stroke-width="2.9"/><circle cx="7.5" cy="42.8" r="1.5"/><circle cx="46.7" cy="10.4" r="0.8"/><path d="M14.8,5.0L15.8,13.8" stroke-width="2.2"/><path d="M14.8,69.0L15.8,77.8" stroke-width="2.2"/><path d="M30.0,18.1L31.8,25.2" stroke-width="2.1"/><path d="M43.0,-3.8L41.3,1.5" stroke-width="1.8"/><path d="M43.0,60.2L41.3,65.5" stroke-width="1.8"/><path d="M3.9,49.9L3.9,53.1" stroke-width="3.0"/><path d="M67.9,49.9L67.9,53.1" stroke-width="3.0"/><circle cx="33.2" cy="22.4" r="0.9"/><path d="M-6.5,31.4L-5.8,34.7" stroke-width="1.9"/><path d="M57.5,31.4L58.2,34.7" stroke-width="1.9"/><circle cx="25.4" cy="3.8" r="1.2"/><circle cx="19.6" cy="3.3" r="1.8"/><path d="M11.5,32.6L13.4,38.4" stroke-width="2.2"/><path d="M6.9,34.7L5.4,41.1" stroke-width="2.1"/><path d="M70.9,34.7L69.4,41.1" stroke-width="2.1"/><path d="M1.1,34.5L1.8,40.9" stroke-width="2.6"/><path d="M65.1,34.5L65.8,40.9" stroke-width="2.6"/><path d="M46.4,-5.6L45.3,0.0" stroke-width="2.1"/><path d="M46.4,58.4L45.3,64.0" stroke-width="2.1"/><circle cx="7.4" cy="19.9" r="1.6"/><circle cx="52.4" cy="20.0" r="0.9"/><path d="M15.7,5.4L16.9,11.7" stroke-width="1.9"/><path d="M15.7,69.4L16.9,75.7" stroke-width="1.9"/><circle cx="44.8" cy="3.1" r="1.1"/><path d="M23.9,6.3L23.2,11.1" stroke-width="2.5"/><path d="M23.9,70.3L23.2,75.1" stroke-width="2.5"/><path d="M-6.7,41.9L-6.3,48.3" stroke-width="2.8"/><path d="M57.3,41.9L57.7,48.3" stroke-width="2.8"/><path d="M41.9,-2.9L43.3,4.2" stroke-width="2.8"/><path d="M41.9,61.1L43.3,68.2" stroke-width="2.8"/><circle cx="24.5" cy="8.3" r="1.0"/><circle cx="16.8" cy="43.3" r="0.9"/><circle cx="48.9" cy="35.7" r="0.9"/><path d="M8.3,22.9L7.8,31.5" stroke-width="2.1"/><path d="M27.4,23.2L27.3,26.3" stroke-width="2.8"/><path d="M46.5,6.1L46.0,10.1" stroke-width="2.3"/><path d="M46.5,70.1L46.0,74.1" stroke-width="2.3"/><circle cx="60.1" cy="50.9" r="1.1"/><path d="M-5.4,29.5L-6.4,35.1" stroke-width="2.9"/><path d="M58.6,29.5L57.6,35.1" stroke-width="2.9"/><path d="M34.1,-1.9L33.4,1.6" stroke-width="2.3"/><path d="M34.1,62.1L33.4,65.6" stroke-width="2.3"/><circle cx="3.3" cy="-1.4" r="1.4"/><circle cx="3.3" cy="62.6" r="1.4"/><path d="M30.8,-7.6L31.6,-3.3" stroke-width="2.0"/><path d="M30.8,56.4L31.6,60.7" stroke-width="2.0"/><path d="M36.0,22.8L36.5,27.3" stroke-width="2.1"/><path d="M-1.1,53.8L-0.5,60.5" stroke-width="2.0"/><path d="M62.9,53.8L63.5,60.5" stroke-width="2.0"/><circle cx="53.2" cy="31.4" r="1.0"/><path d="M6.3,45.9L5.5,50.1" stroke-width="2.2"/><path d="M70.3,45.9L69.5,50.1" stroke-width="2.2"/><path d="M43.7,55.2L44.5,63.0" stroke-width="1.8"/><circle cx="32.8" cy="37.5" r="1.2"/><path d="M20.3,1.7L20.5,7.0" stroke-width="2.6"/><path d="M20.3,65.7L20.5,71.0" stroke-width="2.6"/><path d="M25.5,-1.1L24.6,7.4" stroke-width="2.6"/><path d="M25.5,62.9L24.6,71.4" stroke-width="2.6"/><path d="M34.3,51.1L33.7,57.6" stroke-width="2.4"/><circle cx="18.2" cy="5.0" r="1.2"/><path d="M37.1,48.6L35.8,53.3" stroke-width="2.1"/><path d="M45.8,4.6L43.8,11.3" stroke-width="2.9"/><path d="M45.8,68.6L43.8,75.3" stroke-width="2.9"/><path d="M44.0,53.6L45.5,60.1" stroke-width="2.4"/><path d="M-6.6,15.3L-6.1,21.5" stroke-width="1.8"/><path d="M57.4,15.3L57.9,21.5" stroke-width="1.8"/><path d="M25.0,11.4L22.8,19.5" stroke-width="2.5"/><path d="M24.7,7.0L23.9,13.2" stroke-width="2.2"/><path d="M24.7,71.0L23.9,77.2" stroke-width="2.2"/><path d="M-7.2,13.6L-7.5,18.2" stroke-width="2.9"/><path d="M56.8,13.6L56.5,18.2" stroke-width="2.9"/><path d="M10.7,40.5L12.1,44.6" stroke-width="2.5"/><path d="M53.1,-7.8L53.5,-2.3" stroke-width="2.4"/><path d="M53.1,56.2L53.5,61.7" stroke-width="2.4"/><circle cx="57.9" cy="19.3" r="1.4"/><circle cx="-2.1" cy="12.0" r="0.9"/><circle cx="61.9" cy="12.0" r="0.9"/><circle cx="36.0" cy="38.6" r="1.0"/><path d="M38.0,41.4L40.4,48.3" stroke-width="2.4"/><path d="M53.4,-2.7L52.8,5.3" stroke-width="2.9"/><path d="M53.4,61.3L52.8,69.3" stroke-width="2.9"/><path d="M14.7,44.6L16.4,50.2" stroke-width="2.0"/><circle cx="10.0" cy="5.9" r="1.4"/><path d="M6.7,48.5L5.2,56.3" stroke-width="2.7"/><path d="M70.7,48.5L69.2,56.3" stroke-width="2.7"/><path d="M-4.9,-2.8L-2.3,5.6" stroke-width="1.9"/><path d="M-4.9,61.2L-2.3,69.6" stroke-width="1.9"/><path d="M59.1,-2.8L61.7,5.6" stroke-width="1.9"/><path d="M59.1,61.2L61.7,69.6" stroke-width="1.9"/><path d="M4.1,13.2L3.5,18.9" stroke-width="2.7"/><path d="M68.1,13.2L67.5,18.9" stroke-width="2.7"/><path d="M5.4,25.8L6.9,30.8" stroke-width="2.5"/><path d="M69.4,25.8L70.9,30.8" stroke-width="2.5"/><path d="M24.0,43.8L21.4,52.2" stroke-width="1.9"/><circle cx="48.6" cy="46.2" r="0.9"/><path d="M30.7,22.7L31.5,31.1" stroke-width="2.1"/><path d="M31.9,44.6L33.0,51.0" stroke-width="2.2"/><circle cx="54.3" cy="33.2" r="1.2"/><circle cx="15.2" cy="42.6" r="1.1"/><path d="M6.1,30.6L6.8,36.8" stroke-width="2.9"/><path d="M70.1,30.6L70.8,36.8" stroke-width="2.9"/><path d="M5.9,22.8L5.4,25.8" stroke-width="2.2"/><path d="M69.9,22.8L69.4,25.8" stroke-width="2.2"/><path d="M1.1,16.1L1.1,21.4" stroke-width="1.9"/><path d="M65.1,16.1L65.1,21.4" stroke-width="1.9"/><path d="M14.0,-1.6L15.8,3.9" stroke-width="2.1"/><path d="M14.0,62.4L15.8,67.9" stroke-width="2.1"/><path d="M-2.9,44.0L-2.6,47.3" stroke-width="2.7"/><path d="M61.1,44.0L61.4,47.3" stroke-width="2.7"/><path d="M27.8,38.0L27.3,44.8" stroke-width="1.8"/><path d="M1.5,49.3L-0.2,57.3" stroke-width="2.9"/><path d="M65.5,49.3L63.8,57.3" stroke-width="2.9"/><path d="M24.2,-0.1L26.4,8.0" stroke-width="2.7"/><path d="M24.2,63.9L26.4,72.0" stroke-width="2.7"/><path d="M27.0,-1.8L27.3,2.5" stroke-width="2.1"/><path d="M27.0,62.2L27.3,66.5" stroke-width="2.1"/><path d="M30.1,18.3L31.0,22.0" stroke-width="2.3"/><path d="M4.7,24.4L6.7,32.5" stroke-width="1.8"/><path d="M68.7,24.4L70.7,32.5" stroke-width="1.8"/><path d="M53.0,-2.5L53.8,1.2" stroke-width="2.9"/><path d="M53.0,61.5L53.8,65.2" stroke-width="2.9"/><circle cx="60.0" cy="2.0" r="1.2"/><circle cx="60.0" cy="66.0" r="1.2"/><path d="M17.1,48.2L19.1,55.6" stroke-width="2.4"/><circle cx="-1.6" cy="44.9" r="0.9"/><circle cx="62.4" cy="44.9" r="0.9"/><path d="M41.2,24.0L41.0,29.9" stroke-width="3.0"/><circle cx="15.4" cy="36.4" r="1.3"/><path d="M46.8,8.6L49.4,15.3" stroke-width="2.7"/><path d="M26.8,32.3L29.3,39.6" stroke-width="2.4"/><path d="M2.5,24.7L3.0,27.8" stroke-width="2.3"/><path d="M66.5,24.7L67.0,27.8" stroke-width="2.3"/><path d="M41.9,-4.8L41.1,1.3" stroke-width="2.9"/><path d="M41.9,59.2L41.1,65.3" stroke-width="2.9"/><path d="M-3.2,-0.8L-4.3,3.1" stroke-width="1.9"/><path d="M-3.2,63.2L-4.3,67.1" stroke-width="1.9"/><path d="M60.8,-0.8L59.7,3.1" stroke-width="1.9"/><path d="M60.8,63.2L59.7,67.1" stroke-width="1.9"/><path d="M28.7,47.1L27.3,52.2" stroke-width="2.2"/><circle cx="35.3" cy="53.1" r="1.2"/><circle cx="31.6" cy="36.2" r="1.3"/><path d="M3.8,5.6L2.7,9.3" stroke-width="2.1"/><path d="M3.8,69.6L2.7,73.3" stroke-width="2.1"/><path d="M67.8,5.6L66.7,9.3" stroke-width="2.1"/><path d="M67.8,69.6L66.7,73.3" stroke-width="2.1"/><path d="M17.6,50.2L16.7,54.6" stroke-width="2.6"/><circle cx="24.9" cy="40.2" r="1.1"/><path d="M-7.9,28.1L-6.8,32.0" stroke-width="1.9"/><path d="M56.1,28.1L57.2,32.0" stroke-width="1.9"/><circle cx="47.3" cy="35.9" r="0.8"/><path d="M52.7,31.6L52.6,34.9" stroke-width="1.9"/><path d="M46.2,39.1L44.9,43.3" stroke-width="1.9"/><circle cx="4.1" cy="43.8" r="0.9"/><path d="M29.5,41.5L31.8,48.5" stroke-width="2.6"/><path d="M54.0,7.7L54.7,12.2" stroke-width="1.8"/><path d="M54.0,71.7L54.7,76.2" stroke-width="1.8"/><path d="M48.5,33.0L50.0,38.6" stroke-width="2.1"/><circle cx="16.9" cy="60.6" r="0.9"/><path d="M22.6,5.1L22.0,11.8" stroke-width="2.0"/><path d="M22.6,69.1L22.0,75.8" stroke-width="2.0"/><path d="M8.9,31.4L8.7,37.1" stroke-width="2.9"/><path d="M9.3,17.1L7.7,23.2" stroke-width="2.5"/><path d="M42.4,26.9L43.7,34.8" stroke-width="1.9"/><path d="M16.6,22.9L16.3,27.5" stroke-width="2.6"/><path d="M-2.8,7.5L-1.3,12.3" stroke-width="2.6"/><path d="M-2.8,71.5L-1.3,76.3" stroke-width="2.6"/><path d="M61.2,7.5L62.7,12.3" stroke-width="2.6"/><path d="M61.2,71.5L62.7,76.3" stroke-width="2.6"/><circle cx="54.0" cy="37.3" r="1.8"/><path d="M24.6,40.7L25.0,45.3" stroke-width="2.2"/><path d="M6.1,4.1L4.9,9.4" stroke-width="1.9"/><path d="M6.1,68.1L4.9,73.4" stroke-width="1.9"/><path d="M70.1,4.1L68.9,9.4" stroke-width="1.9"/><path d="M70.1,68.1L68.9,73.4" stroke-width="1.9"/><path d="M19.3,11.5L17.3,19.0" stroke-width="2.4"/><circle cx="6.7" cy="26.6" r="0.8"/><circle cx="36.2" cy="18.6" r="1.3"/><path d="M-4.3,-3.5L-4.9,0.1" stroke-width="1.9"/><path d="M-4.3,60.5L-4.9,64.1" stroke-width="1.9"/><path d="M59.7,-3.5L59.1,0.1" stroke-width="1.9"/><path d="M59.7,60.5L59.1,64.1" stroke-width="1.9"/><path d="M34.4,5.4L34.8,11.6" stroke-width="2.1"/><path d="M34.4,69.4L34.8,75.6" stroke-width="2.1"/><path d="M35.3,-1.7L35.3,2.5" stroke-width="2.9"/><path d="M35.3,62.3L35.3,66.5" stroke-width="2.9"/><path d="M24.4,40.6L23.5,45.4" stroke-width="2.4"/><path d="M8.9,3.4L9.3,9.2" stroke-width="2.9"/><path d="M8.9,67.4L9.3,73.2" stroke-width="2.9"/><circle cx="36.7" cy="32.0" r="1.5"/><path d="M16.4,30.1L18.2,36.5" stroke-width="2.0"/><circle cx="44.5" cy="46.7" r="1.8"/><circle cx="8.5" cy="10.7" r="1.2"/><circle cx="39.7" cy="54.9" r="1.5"/><circle cx="6.7" cy="37.1" r="1.2"/><circle cx="3.4" cy="46.1" r="1.6"/><path d="M21.5,37.9L20.1,43.6" stroke-width="2.9"/><path d="M18.1,21.4L18.3,25.1" stroke-width="2.3"/><path d="M-1.5,8.2L-2.6,15.7" stroke-width="1.8"/><path d="M62.5,8.2L61.4,15.7" stroke-width="1.8"/><path d="M-3.6,20.0L-3.1,26.9" stroke-width="2.8"/><path d="M60.4,20.0L60.9,26.9" stroke-width="2.8"/><path d="M43.2,21.8L42.5,27.7" stroke-width="2.5"/><path d="M50.9,10.2L50.4,13.2" stroke-width="2.7"/><path d="M53.6,2.8L55.2,8.4" stroke-width="2.0"/><path d="M53.6,66.8L55.2,72.4" stroke-width="2.0"/><circle cx="-1.6" cy="54.6" r="1.6"/><circle cx="62.4" cy="54.6" r="1.6"/><path d="M41.7,24.6L42.4,28.9" stroke-width="1.8"/><path d="M42.0,37.2L42.4,43.2" stroke-width="2.2"/><path d="M47.1,23.9L47.5,31.4" stroke-width="2.6"/><path d="M3.9,16.7L5.2,20.3" stroke-width="1.8"/><path d="M67.9,16.7L69.2,20.3" stroke-width="1.8"/><path d="M49.0,6.8L48.0,12.3" stroke-width="2.4"/><path d="M49.0,70.8L48.0,76.3" stroke-width="2.4"/><path d="M33.4,1.6L32.9,9.2" stroke-width="2.8"/><path d="M33.4,65.6L32.9,73.2" stroke-width="2.8"/><path d="M39.3,45.8L41.6,52.1" stroke-width="2.9"/><circle cx="-0.7" cy="12.9" r="1.1"/><circle cx="63.3" cy="12.9" r="1.1"/><circle cx="6.4" cy="23.6" r="1.0"/><path d="M0.2,27.4L0.9,34.8" stroke-width="2.0"/><path d="M64.2,27.4L64.9,34.8" stroke-width="2.0"/><path d="M-3.0,-6.8L-2.6,-2.5" stroke-width="2.3"/><path d="M-3.0,57.2L-2.6,61.5" stroke-width="2.3"/><path d="M61.0,-6.8L61.4,-2.5" stroke-width="2.3"/><path d="M61.0,57.2L61.4,61.5" stroke-width="2.3"/><path d="M26.2,1.7L25.3,9.2" stroke-width="2.8"/><path d="M26.2,65.7L25.3,73.2" stroke-width="2.8"/><path d="M43.7,48.8L42.1,57.2" stroke-width="2.3"/><path d="M42.2,42.1L42.7,49.4" stroke-width="2.0"/><path d="M21.0,16.0L22.7,23.4" stroke-width="2.4"/><circle cx="53.8" cy="23.4" r="1.4"/><circle cx="23.2" cy="9.2" r="0.8"/></g></pattern>
<pattern id="sl" width="64" height="64" patternUnits="userSpaceOnUse"><g fill="#000" stroke="#000" stroke-linecap="round"><circle cx="15.2" cy="34.8" r="1.4"/><circle cx="40.0" cy="4.2" r="1.6"/><path d="M16.6,15.0L16.1,17.4" stroke-width="1.3"/><path d="M40.9,9.6L40.9,13.2" stroke-width="1.4"/><path d="M43.0,4.1L43.4,6.8" stroke-width="1.0"/><path d="M43.0,68.1L43.4,70.8" stroke-width="1.0"/><path d="M55.4,30.3L54.9,33.9" stroke-width="1.6"/><circle cx="25.3" cy="51.3" r="1.7"/><circle cx="56.2" cy="6.2" r="1.0"/><path d="M-2.2,27.9L-2.2,29.8" stroke-width="1.2"/><path d="M61.8,27.9L61.8,29.8" stroke-width="1.2"/><path d="M22.5,37.4L22.1,41.1" stroke-width="1.6"/><path d="M54.8,-0.6L54.5,0.9" stroke-width="1.6"/><path d="M54.8,63.4L54.5,64.9" stroke-width="1.6"/><path d="M-6.1,36.4L-6.4,38.0" stroke-width="1.3"/><path d="M57.9,36.4L57.6,38.0" stroke-width="1.3"/><path d="M18.2,4.1L19.4,7.8" stroke-width="1.5"/><path d="M18.2,68.1L19.4,71.8" stroke-width="1.5"/><circle cx="26.3" cy="9.6" r="1.6"/><path d="M55.9,2.8L55.7,4.0" stroke-width="1.2"/><path d="M55.9,66.8L55.7,68.0" stroke-width="1.2"/><path d="M-7.6,-1.2L-7.0,2.7" stroke-width="1.0"/><path d="M-7.6,62.8L-7.0,66.7" stroke-width="1.0"/><path d="M56.4,-1.2L57.0,2.7" stroke-width="1.0"/><path d="M56.4,62.8L57.0,66.7" stroke-width="1.0"/><circle cx="38.4" cy="2.0" r="1.2"/><circle cx="38.4" cy="66.0" r="1.2"/><circle cx="39.1" cy="10.0" r="1.7"/><path d="M20.1,-2.6L20.2,-0.5" stroke-width="1.3"/><path d="M20.1,61.4L20.2,63.5" stroke-width="1.3"/><path d="M41.2,38.1L40.4,40.9" stroke-width="1.3"/><circle cx="27.6" cy="46.1" r="1.1"/><path d="M-1.4,33.4L-1.3,34.4" stroke-width="1.3"/><path d="M62.6,33.4L62.7,34.4" stroke-width="1.3"/><path d="M1.3,39.4L1.2,40.6" stroke-width="1.3"/><path d="M65.3,39.4L65.2,40.6" stroke-width="1.3"/><path d="M43.5,22.6L44.6,25.6" stroke-width="1.0"/><circle cx="43.3" cy="-2.3" r="1.3"/><circle cx="43.3" cy="61.7" r="1.3"/><circle cx="37.9" cy="20.5" r="1.1"/><circle cx="23.6" cy="38.1" r="1.2"/><path d="M49.4,1.7L49.9,4.9" stroke-width="1.1"/><path d="M49.4,65.7L49.9,68.9" stroke-width="1.1"/><circle cx="51.4" cy="15.3" r="1.2"/><circle cx="44.7" cy="6.5" r="1.1"/><path d="M53.3,28.1L53.5,29.6" stroke-width="1.4"/><circle cx="56.6" cy="28.9" r="0.9"/><path d="M33.9,12.2L34.7,15.6" stroke-width="1.2"/><path d="M51.7,41.1L52.2,43.0" stroke-width="1.2"/><circle cx="50.8" cy="17.4" r="1.2"/><path d="M26.9,26.2L27.4,27.6" stroke-width="1.6"/><circle cx="56.3" cy="-0.8" r="1.8"/><circle cx="56.3" cy="63.2" r="1.8"/><path d="M-4.6,14.2L-5.0,17.7" stroke-width="1.3"/><path d="M59.4,14.2L59.0,17.7" stroke-width="1.3"/><circle cx="18.5" cy="21.8" r="0.9"/><path d="M37.7,18.4L37.4,19.5" stroke-width="1.4"/><path d="M-4.9,-6.6L-3.9,-4.1" stroke-width="1.4"/><path d="M-4.9,57.4L-3.9,59.9" stroke-width="1.4"/><path d="M59.1,-6.6L60.1,-4.1" stroke-width="1.4"/><path d="M59.1,57.4L60.1,59.9" stroke-width="1.4"/><path d="M11.0,19.2L11.2,21.8" stroke-width="1.6"/><circle cx="39.2" cy="21.8" r="1.7"/><circle cx="30.5" cy="50.1" r="1.0"/><circle cx="34.2" cy="52.3" r="1.6"/><path d="M-5.0,51.6L-5.1,52.6" stroke-width="1.5"/><path d="M59.0,51.6L58.9,52.6" stroke-width="1.5"/><circle cx="3.2" cy="17.4" r="1.3"/><path d="M27.1,30.3L27.4,31.2" stroke-width="1.1"/><path d="M8.0,4.4L9.1,7.8" stroke-width="1.3"/><path d="M8.0,68.4L9.1,71.8" stroke-width="1.3"/><path d="M72.0,4.4L73.1,7.8" stroke-width="1.3"/><path d="M72.0,68.4L73.1,71.8" stroke-width="1.3"/><circle cx="20.2" cy="20.1" r="1.4"/><circle cx="37.5" cy="23.1" r="1.1"/><path d="M7.9,35.6L8.6,37.6" stroke-width="1.1"/><path d="M71.9,35.6L72.6,37.6" stroke-width="1.1"/><path d="M23.9,38.7L23.5,40.8" stroke-width="1.4"/><circle cx="27.6" cy="23.8" r="1.5"/><circle cx="26.9" cy="44.4" r="1.0"/><circle cx="34.3" cy="44.5" r="1.2"/><path d="M27.3,-7.7L26.7,-5.6" stroke-width="1.5"/><path d="M27.3,56.3L26.7,58.4" stroke-width="1.5"/><circle cx="16.8" cy="29.7" r="1.6"/><path d="M42.4,-7.2L42.0,-4.2" stroke-width="1.3"/><path d="M42.4,56.8L42.0,59.8" stroke-width="1.3"/><circle cx="6.6" cy="37.6" r="0.9"/><circle cx="49.6" cy="2.8" r="0.9"/><circle cx="49.6" cy="66.8" r="0.9"/><circle cx="56.3" cy="11.5" r="1.6"/><path d="M7.8,54.0L6.7,57.4" stroke-width="1.3"/><path d="M71.8,54.0L70.7,57.4" stroke-width="1.3"/><path d="M51.1,2.3L50.8,4.8" stroke-width="1.1"/><path d="M51.1,66.3L50.8,68.8" stroke-width="1.1"/><circle cx="47.9" cy="59.8" r="1.1"/><circle cx="36.1" cy="53.0" r="1.0"/><path d="M16.0,39.4L16.2,41.6" stroke-width="1.2"/><circle cx="22.4" cy="26.8" r="1.3"/><path d="M-1.7,26.4L-1.9,27.9" stroke-width="1.5"/><path d="M62.3,26.4L62.1,27.9" stroke-width="1.5"/><circle cx="43.1" cy="33.1" r="1.4"/><circle cx="57.4" cy="9.6" r="1.5"/><circle cx="58.7" cy="33.1" r="1.5"/><circle cx="11.9" cy="17.1" r="1.4"/><path d="M20.2,14.9L20.8,18.7" stroke-width="1.4"/><path d="M26.4,54.6L26.8,56.4" stroke-width="1.0"/><circle cx="30.7" cy="24.5" r="1.2"/><circle cx="20.6" cy="49.5" r="1.8"/><circle cx="30.7" cy="38.3" r="1.6"/><circle cx="52.6" cy="35.7" r="1.5"/><path d="M54.8,25.6L55.0,29.5" stroke-width="1.1"/></g></pattern>
</defs>
<rect width="2438" height="1907" fill="#fff"/>
<g fill="none" stroke="#000" stroke-width="3.0" stroke-linejoin="round" stroke-linecap="round">
<!-- p23 -->
<!-- part 23 -->
<path d="M932,290 L1079,210 L1090,218 L1110,234 L1124,227 L1124,222 L1114,217 L1111,212 L1116,209 L1124,211 L1135,219 L1159,206"/>
<path d="M945,297 L1024,257 L1060,236 L1075,226 L1087,221 L1106,207"/>
<path d="M1110,206 L1137,191 L1149,195 L1160,205 L1165,207 L1180,216 L1190,259"/>
<path d="M1147,195 L1180,176 L1195,169 L1210,170 L1226,180 L1275,214 L1292,220 L1302,235 L1333,350 L1334,380 L1330,395 L1322,400"/>
<path d="M1191,255 L1204,247 L1222,241 L1245,227 L1275,215"/>
<path d="M1234,251 L1255,237 L1272,235 L1285,240 L1291,250 L1309,322 L1327,363 L1329,395" stroke-width="4"/>
<path d="M1234,251 L1240,275 L1239,302"/>
<path d="M1237,258 L1255,243 L1272,240 L1285,244 L1305,320 L1300,330 L1268,318 L1252,300 L1240,275 Z" fill="url(#st)" stroke="none"/>
<path d="M1268,330 L1310,340 L1325,395 L1300,390 Z" fill="url(#st)" stroke="none"/>
<path d="M1241,303 L1265,330 L1305,345 M1270,345 L1300,360 L1310,375"/>
<path d="M932,290 L931,391 L935,398 L945,412 L1022,362 L1022,260 L1237,302"/>
<path d="M945,296 L945,412"/>
<path d="M1022,362 L1022,330 C1022,316 1034,307 1046,307 C1060,307 1070,316 1070,330 L1070,365 L1195,370 L1212,327 L1222,324 L1247,329"/>
<path d="M1022,362 L1022,330" stroke-width="5"/>
<path d="M1250,329 L1251,355 L1257,357 L1264,352 L1265,319"/>
<path d="M1284,332 L1285,368 L1290,372 L1295,366 L1295,335"/>
<path d="M1032,390 L1207,290" stroke-dasharray="10,9"/>
<path d="M950,302 L1020,266" stroke-dasharray="6,7" stroke-width="2"/>
<path d="M995,239 L1075,192" stroke-dasharray="2,9" stroke-width="3"/>
<path d="M1032,390 L1050,400"/>
<circle cx="1064" cy="419" r="4.5" stroke-width="3"/>
<path d="M1052,412 L1058,416 M1069,423 L1092,433"/>
<circle cx="1085.5" cy="183.5" r="5.5" stroke-width="3.5"/>
<path d="M1068,192 L1080,186 M1091,181 L1095,179"/>
<path d="M1122,387 L1135,362" stroke-width="2"/>
<path d="M1161,241 L1165,255 L1171,254 L1172,246 Z" fill="#000"/>
<path d="M1203,252 L1207,266 L1214,265" />
<ellipse cx="1214" cy="254" rx="3" ry="5" fill="#000" transform="rotate(30 1214 254)"/>

<!-- p51 -->
<!-- part 53 -->
<path d="M1890,191 L2007,106 Q2012,102 2018,106 L2135,179 Q2140,183 2137,190 L2016,268 Q2011,271 2006,268 L1892,196 Q1886,193 1890,191 Z" fill="#fff"/>
<path d="M2016,264 L2136,187" stroke-width="1.6"/>
<path d="M2137,190 L2137,210 L2128,217 L2041,292 L2031,294 L2008,270"/>
<path d="M1890,194 L1913,220 L1926,217"/>
<path d="M1893,197 L2010,270" stroke-width="4"/>
<path d="M2129,206 Q2134,200 2132,210 Q2130,214 2124,212" stroke-width="2"/>
<!-- part 52 spring -->
<g stroke-width="3.6">
<ellipse cx="2112" cy="307" rx="7" ry="4"/>
<path d="M2105,312 Q2112,318 2119,313 M2104,319 Q2112,325 2120,320 M2104,326 Q2112,332 2120,327 M2106,332 Q2113,337 2119,333"/>
<path d="M2105,308 L2104,330 M2119,308 L2120,330" stroke-width="2"/>
</g>
<!-- part 51 -->
<path d="M1855,215 L1837,222 L1445,567 L1429,597"/>
<path d="M1861,211 L1431,595"/>
<path d="M1861,211 L2043,326 M2063,339 L2128,381 M2156,399 L2339,520 L2389,572 L2030,936 L1947,930 L1922,915"/>
<path d="M2341,524 L1947,922"/>
<path d="M1427,599 L1472,625"/>
<path d="M1472,625 L1946,910 L1912,912 L1475,646 Z" fill="url(#st)" stroke="none" opacity="0.6"/>
<path d="M1472,625 L1945,912" stroke-dasharray="7,4" stroke-width="3.5"/>
<path d="M1475,646 L1912,910"/>
<path d="M1472,625 L1475,646"/>
<!-- recess rim -->
<path d="M1862,272 L1510,582 Q1504,592 1517,600 L1935,856 Q1940,858 1944,854 L2237,561 L2267,530"/>
<path d="M1527,604 L1932,850 L2232,558" stroke-width="1.6"/>
<!-- pocket A -->
<path d="M1877,325 L1640,547"/>
<path d="M1640,547 L1566,605" stroke-dasharray="14,9"/>
<path d="M1566,605 L1800,752" stroke-width="1.8"/>
<path d="M1862,272 Q1866,268 1872,272 L1991,350 L1966,377 L1877,325"/>
<path d="M1875,279 L1990,352 L1966,376 L1880,324 Z" fill="url(#st)" stroke="none" opacity="0.8"/>
<path d="M1861,284 L1867,320 M1873,277 L1880,322"/>
<path d="M1966,377 L1873,472"/>
<!-- plateau front wall -->
<path d="M1873,472 L2027,564 M1873,472 L1845,500 L1846,506 L2030,617 L2036,617 L2162,507 L2237,555"/>
<path d="M1875,476 L2026,567 L2031,613 L1849,504 Z" fill="url(#st)" stroke="none" opacity="0.8"/>
<path d="M2018,566 L2024,606 M2035,568 L2040,608"/>
<!-- pocket B -->
<path d="M2027,564 L2150,457 Q2155,453 2160,458 L2267,527 L2262,537 L2237,558"/>
<path d="M2160,462 L2264,529 L2240,555 L2163,508 Z" fill="url(#st)" stroke="none" opacity="0.8"/>
<path d="M2145,470 L2152,505 M2160,466 L2167,502"/>
<!-- holes & slot -->
<ellipse cx="1971" cy="427" rx="8" ry="4" transform="rotate(-40 1971 427)"/>
<ellipse cx="2071" cy="492" rx="8" ry="4" transform="rotate(-40 2071 492)"/>
<path d="M2043,416 L2071,389 L2081,387 L2092,399 L2066,426 L2058,427 Z"/>
<path d="M2047,414 L2073,391" stroke-width="1.5"/>
<!-- lugs -->
<path d="M2022,357 Q2018,345 2025,335 Q2033,325 2040,330 L2045,345 Q2046,355 2040,360 L2030,367 Q2024,368 2022,357 Z"/>
<circle cx="2037" cy="346" r="3.5"/>
<path d="M2052,338 Q2057,334 2060,340 L2063,360 Q2060,365 2057,360 Z"/>
<path d="M2132,410 Q2130,392 2136,386 Q2140,385 2141,392 L2142,410 Z"/>
<path d="M2140,432 Q2134,422 2140,405 L2148,396 L2160,408 L2162,420 L2152,436 Q2145,442 2140,432 Z"/>
<circle cx="2144" cy="414" r="4"/>
<!-- part 54 -->
<path d="M1640,547 L1861,681 L1787,747 L1566,602" stroke-dasharray="30,10,3,10" stroke-width="2.4"/>
<!-- hinge strip 1 -->
<path d="M1443,650 L1443,676 L1622,790 L1626,772 Z" fill="#000"/>
<path d="M1472,625 L1475,650 M1640,778 L1642,793 L1697,812"/>
<path d="M1697,813 L1697,835 L1883,952 L1888,932 Z" fill="#000"/>
<g fill="#fff" stroke-width="2.2">
<path d="M1445,652 Q1448,645 1458,647 L1470,655 L1466,675 L1452,665 Z"/>
<path d="M1483,673 Q1487,665 1497,668 L1510,676 L1504,700 L1483,687 Z"/>
<path d="M1525,700 Q1530,693 1540,696 L1553,704 L1547,728 L1525,714 Z"/>
<path d="M1566,727 Q1570,719 1580,722 L1593,730 L1587,754 L1566,740 Z"/>
<path d="M1605,752 Q1610,745 1620,748 L1636,758 L1630,790 L1605,770 Z"/>
<path d="M1701,816 Q1706,808 1716,812 L1728,820 L1722,843 L1701,830 Z"/>
<path d="M1745,844 Q1750,836 1760,839 L1772,847 L1767,870 L1745,857 Z"/>
<path d="M1786,870 Q1791,862 1800,865 L1813,873 L1807,896 L1786,883 Z"/>
<path d="M1826,896 Q1831,888 1840,891 L1853,899 L1847,922 L1826,909 Z"/>
<path d="M1864,920 Q1869,912 1878,915 L1889,922 L1885,948 L1864,935 Z"/>
</g>
<g stroke-width="2">
<path d="M1464,660 Q1470,650 1478,660 L1474,680 M1505,688 Q1511,678 1519,688 L1515,706 M1546,713 Q1552,703 1560,713 L1556,732 M1587,740 Q1593,730 1601,740 L1597,758 M1628,768 Q1634,758 1642,768 L1640,790"/>
<path d="M1722,828 Q1728,818 1736,828 L1732,846 M1765,854 Q1771,844 1779,854 L1775,872 M1806,880 Q1812,870 1820,880 L1816,898 M1846,906 Q1852,896 1860,906 L1856,924 M1885,930 Q1891,920 1897,930 L1905,935 L1915,925 L1915,908"/>
</g>
<!-- part 56 rod -->
<path d="M1917,952 L2082,1062" stroke-width="13" stroke-linecap="butt"/>
<path d="M1917,952 L2082,1062" stroke-width="8" stroke="#fff" stroke-linecap="butt" transform="translate(1.5,-3)"/>
<ellipse cx="2083" cy="1063" rx="4" ry="7" transform="rotate(30 2083 1063)" fill="#fff"/>

<!-- p1 -->
<!-- ===== MAIN BODY part 1 ===== -->
<!-- rear left block -->
<path d="M990,730 L992,712 L1005,696 L1037,691 L1055,703" />
<path d="M995,722 L1008,716 L1010,705" stroke-width="2"/>
<path d="M1037,692 L935,790" stroke-width="3.5"/>
<path d="M1037,692 L1147,760"/>
<path d="M1055,705 L967,802"/>
<path d="M975,797 L975,860 M977,797 L1125,882 M975,860 L1100,935 L1100,942"/>
<path d="M935,790 L962,805 L950,867 L877,902 L907,800 Z"/>
<path d="M909,803 L935,793 L959,807 L948,866 L880,899 Z" fill="url(#st)" stroke="none"/>
<path d="M877,902 L975,860"/>
<!-- middle post -->
<path d="M1150,767 L1165,775 L1147,892 L1125,882 Z"/>
<path d="M1151,770 L1163,776 L1146,889 L1128,881 Z" fill="url(#st)" stroke="none"/>
<path d="M1147,892 L1265,962 M1147,890 L1212,822"/>
<!-- right grip block -->
<path d="M1150,765 L1182,727 L1188,725 L1201,737 L1170,775 Z"/>
<path d="M1201,739 L1382,842 L1405,907 L1430,922"/>
<path d="M1201,741 L1320,811 M1196,751 L1316,821 M1188,761 L1311,831 M1179,771 L1302,841" stroke-width="3.4"/>
<path d="M1170,780 L1292,848 L1288,862 L1172,800 Z" fill="#000"/>
<path d="M1310,842 L1318,828 L1330,820 L1370,840 L1342,862 Z"/>
<path d="M1334,822 L1368,840 L1345,858 Z" fill="#000"/>
<path d="M1290,845 L1342,865 L1320,992 L1265,962 Z"/>
<path d="M1292,848 L1340,867 L1319,989 L1268,962 Z" fill="url(#st)" stroke="none"/>
<path d="M1402,910 L1320,995 M1427,925 L1312,1007"/>
<path d="M1430,922 L1457,962 L1480,1002 L1487,1040 L1555,1215"/>
<!-- plate 4 -->
<path d="M1020,977 L1150,927 L1262,990 L1264,997 L1095,1058 Q1088,1030 1065,1008 Q1045,990 1020,982 Z" fill="#fff"/>
<path d="M1095,1052 L1262,992" stroke-width="1.6"/>
<path d="M1067,1010 Q1085,1025 1092,1055" stroke-width="5"/>
<path d="M1207,1022 L1222,1027" stroke-width="2"/>
<path d="M1132,1060 L1132,1078" stroke-dasharray="4,4" stroke-width="2"/>
<circle cx="1130" cy="1083" r="3" fill="#000"/>
<path d="M1133,1084 L1145,1083" stroke-width="2"/>
<!-- channel behind plate4 -->
<path d="M1100,1057 L1100,1095"/>
<path d="M1070,1172 L1165,1137 L1182,1145 L1190,1170 L1197,1177 L1232,1202 M1073,1180 L1185,1143"/>
<path d="M997,1212 L1185,1180 M1007,1242 L1227,1200"/>
<path d="M1047,1272 L1122,1250 L1265,1195"/>
<path d="M1125,1250 L1100,1245"/>
<!-- volute outer -->
<path d="M877,902 L747,965 C700,990 660,1020 635,1050 C605,1085 585,1120 577,1150 C571,1180 569,1210 569,1245 C569,1270 575,1300 580,1330"/>
<path d="M567,1250 L567,1267 C568,1290 575,1330 590,1350 C605,1372 630,1392 660,1410 C700,1430 750,1448 807,1461 L884,1474 L884,1461 C830,1452 790,1442 757,1432 C720,1418 685,1400 660,1385 C635,1365 610,1345 598,1325 C585,1305 575,1280 569,1255 Z" fill="#000" stroke="none"/>
<!-- volute inner wall -->
<path d="M1100,935 L810,1045 C770,1062 735,1100 717,1137 C700,1170 692,1210 692,1237 C694,1290 730,1340 780,1365 C830,1388 890,1396 965,1395 C1020,1392 1070,1360 1095,1320 C1105,1300 1108,1275 1107,1255"/>
<path d="M692,1236 L722,1238 C716,1258 716,1290 727,1322 C712,1305 700,1280 692,1236 Z" fill="#000" stroke="none"/>
<!-- teeth ring -->
<path d="M900,1132 L1100,1096 L1165,1135"/>
<path d="M695,1240 L703,1222 L715,1202 L740,1183 L772,1167 L815,1145 L860,1136 L900,1132 L965,1135 L1015,1147 L1045,1160 L1065,1172"/>
<path d="M700,1254 L712,1235 L727,1215 L745,1200 L765,1187 L815,1170 L850,1160 L900,1156 L965,1160 L1015,1172 L1052,1190 L1063,1193"/>
<path d="M900.0,1132.0 L901.1,1132.0 L902.1,1132.1 L903.2,1132.1 L904.2,1132.2 L905.2,1132.2 L906.3,1132.3 L907.3,1132.3 L908.4,1132.4 L909.4,1132.4 L910.5,1132.5 L911.5,1132.5 L912.6,1132.6 L913.6,1132.6 L914.6,1132.7 L915.7,1132.7 L916.7,1132.8 L917.8,1132.8 L918.8,1132.9 L919.9,1132.9 L920.9,1133.0 L922.0,1133.0 L923.0,1133.1 L924.0,1133.1 L925.1,1133.2 L926.1,1133.2 L927.2,1133.3 L928.2,1133.3 L929.3,1133.4 L930.3,1133.4 L931.4,1133.4 L932.4,1133.5 L933.4,1133.5 L934.5,1133.6 L935.5,1133.6 L936.6,1133.7 L937.6,1133.7 L938.7,1133.8 L939.7,1133.8 L940.7,1133.9 L941.8,1133.9 L942.8,1134.0 L943.9,1134.0 L944.9,1134.1 L946.0,1134.1 L947.0,1134.2 L948.1,1134.2 L949.1,1134.3 L950.1,1134.3 L951.2,1134.4 L952.2,1134.4 L953.3,1134.5 L954.3,1134.5 L955.4,1134.6 L956.4,1134.6 L957.5,1134.7 L958.5,1134.7 L959.5,1134.7 L960.6,1134.8 L961.6,1134.8 L962.7,1134.9 L963.7,1134.9 L964.8,1135.0 L965.8,1135.2 L966.8,1135.4 L967.8,1135.7 L968.8,1135.9 L969.9,1136.2 L970.9,1136.4 L971.9,1136.7 L972.9,1136.9 L973.9,1137.1 L974.9,1137.4 L976.0,1137.6 L977.0,1137.9 L978.0,1138.1 L979.0,1138.4 L980.0,1138.6 L981.0,1138.8 L982.1,1139.1 L983.1,1139.3 L984.1,1139.6 L985.1,1139.8 L986.1,1140.1 L987.1,1140.3 L988.2,1140.6 L989.2,1140.8 L990.2,1141.0 L991.2,1141.3 L992.2,1141.5 L993.2,1141.8 L994.3,1142.0 L995.3,1142.3 L996.3,1142.5 L997.3,1142.8 L998.3,1143.0 L999.3,1143.2 L1000.4,1143.5 L1001.4,1143.7 L1002.4,1144.0 L1003.4,1144.2 L1004.4,1144.5 L1005.4,1144.7 L1006.4,1144.9 L1007.5,1145.2 L1008.5,1145.4 L1009.5,1145.7 L1010.5,1145.9 L1011.5,1146.2 L1012.5,1146.4 L1013.6,1146.7 L1014.6,1146.9 L1015.6,1147.2 L1016.5,1147.7 L1017.5,1148.1 L1018.4,1148.5 L1019.4,1148.9 L1020.4,1149.3 L1021.3,1149.7 L1022.3,1150.2 L1023.2,1150.6 L1024.2,1151.0 L1025.2,1151.4 L1026.1,1151.8 L1027.1,1152.2 L1028.0,1152.6 L1029.0,1153.1 L1030.0,1153.5 L1030.9,1153.9 L1031.9,1154.3 L1032.8,1154.7 L1033.8,1155.1 L1034.7,1155.6 L1035.7,1156.0 L1036.7,1156.4 L1037.6,1156.8 L1038.6,1157.2 L1039.5,1157.6 L1040.5,1158.1 L1041.5,1158.5 L1042.4,1158.9 L1043.4,1159.3 L1044.3,1159.7 L1045.3,1160.2 L1046.2,1160.7 L1047.1,1161.2 L1048.0,1161.8 L1048.9,1162.3 L1049.8,1162.9 L1050.7,1163.4 L1051.6,1163.9 L1052.5,1164.5 L1053.3,1165.0 L1054.2,1165.5 L1055.1,1166.1 L1056.0,1166.6 L1056.9,1167.2 L1057.8,1167.7 L1058.7,1168.2 L1059.6,1168.8 L1060.5,1169.3 L1061.4,1169.8 L1062.3,1170.4 L1063.2,1170.9 L1064.1,1171.5 L1065.0,1172.0 L1063.0,1193.0 L1062.0,1192.7 L1061.1,1192.5 L1060.1,1192.2 L1059.1,1191.9 L1058.1,1191.7 L1057.2,1191.4 L1056.2,1191.1 L1055.2,1190.9 L1054.2,1190.6 L1053.3,1190.3 L1052.3,1190.1 L1051.3,1189.7 L1050.4,1189.2 L1049.5,1188.8 L1048.6,1188.4 L1047.7,1187.9 L1046.8,1187.5 L1045.9,1187.0 L1045.0,1186.6 L1044.1,1186.1 L1043.2,1185.7 L1042.3,1185.3 L1041.4,1184.8 L1040.4,1184.4 L1039.5,1183.9 L1038.6,1183.5 L1037.7,1183.1 L1036.8,1182.6 L1035.9,1182.2 L1035.0,1181.7 L1034.1,1181.3 L1033.2,1180.8 L1032.3,1180.4 L1031.4,1180.0 L1030.4,1179.5 L1029.5,1179.1 L1028.6,1178.6 L1027.7,1178.2 L1026.8,1177.7 L1025.9,1177.3 L1025.0,1176.9 L1024.1,1176.4 L1023.2,1176.0 L1022.3,1175.5 L1021.4,1175.1 L1020.5,1174.7 L1019.5,1174.2 L1018.6,1173.8 L1017.7,1173.3 L1016.8,1172.9 L1015.9,1172.4 L1015.0,1172.0 L1014.0,1171.8 L1013.0,1171.5 L1012.1,1171.3 L1011.1,1171.1 L1010.1,1170.8 L1009.1,1170.6 L1008.1,1170.3 L1007.1,1170.1 L1006.2,1169.9 L1005.2,1169.6 L1004.2,1169.4 L1003.2,1169.2 L1002.2,1168.9 L1001.2,1168.7 L1000.3,1168.5 L999.3,1168.2 L998.3,1168.0 L997.3,1167.8 L996.3,1167.5 L995.3,1167.3 L994.4,1167.0 L993.4,1166.8 L992.4,1166.6 L991.4,1166.3 L990.4,1166.1 L989.4,1165.9 L988.5,1165.6 L987.5,1165.4 L986.5,1165.2 L985.5,1164.9 L984.5,1164.7 L983.6,1164.5 L982.6,1164.2 L981.6,1164.0 L980.6,1163.7 L979.6,1163.5 L978.6,1163.3 L977.7,1163.0 L976.7,1162.8 L975.7,1162.6 L974.7,1162.3 L973.7,1162.1 L972.7,1161.9 L971.8,1161.6 L970.8,1161.4 L969.8,1161.2 L968.8,1160.9 L967.8,1160.7 L966.8,1160.4 L965.9,1160.2 L964.9,1160.0 L963.9,1159.9 L962.9,1159.9 L961.9,1159.8 L960.8,1159.7 L959.8,1159.7 L958.8,1159.6 L957.8,1159.6 L956.8,1159.5 L955.8,1159.4 L954.8,1159.4 L953.8,1159.3 L952.8,1159.2 L951.8,1159.2 L950.8,1159.1 L949.7,1159.1 L948.7,1159.0 L947.7,1158.9 L946.7,1158.9 L945.7,1158.8 L944.7,1158.8 L943.7,1158.7 L942.7,1158.6 L941.7,1158.6 L940.7,1158.5 L939.7,1158.4 L938.7,1158.4 L937.6,1158.3 L936.6,1158.3 L935.6,1158.2 L934.6,1158.1 L933.6,1158.1 L932.6,1158.0 L931.6,1157.9 L930.6,1157.9 L929.6,1157.8 L928.6,1157.8 L927.6,1157.7 L926.5,1157.6 L925.5,1157.6 L924.5,1157.5 L923.5,1157.4 L922.5,1157.4 L921.5,1157.3 L920.5,1157.3 L919.5,1157.2 L918.5,1157.1 L917.5,1157.1 L916.5,1157.0 L915.5,1157.0 L914.4,1156.9 L913.4,1156.8 L912.4,1156.8 L911.4,1156.7 L910.4,1156.6 L909.4,1156.6 L908.4,1156.5 L907.4,1156.5 L906.4,1156.4 L905.4,1156.3 L904.4,1156.3 L903.4,1156.2 L902.3,1156.1 L901.3,1156.1 L900.3,1156.0Z" fill="#000" stroke="none"/>
<path d="M700.0,1254.0L707.6,1242.0L700.5,1227.6Z M709.2,1239.5L717.9,1227.1L709.5,1211.1Z M719.7,1224.7L728.6,1213.7L721.5,1197.0Z M731.7,1211.1L742.5,1202.0L736.5,1185.7Z M745.7,1199.5L757.6,1191.8L752.9,1176.5Z M761.0,1189.6L773.8,1184.0L769.7,1168.1Z M777.7,1182.7L791.1,1178.1L786.5,1159.6Z M793.9,1177.2L808.3,1172.3L803.3,1151.0Z M811.2,1171.3L825.7,1167.0L820.5,1143.9Z M828.6,1166.1L842.2,1162.2L839.0,1140.2Z M846.1,1161.1L860.0,1159.2L857.4,1136.5Z M864.1,1158.9L878.2,1157.7L876.1,1134.4Z M882.2,1157.4L896.3,1156.3L894.8,1132.5Z" fill="#000" stroke="none"/>
<path d="M906.4,1156.4L914.4,1156.9L910.4,1140.9Z M927.6,1157.7L935.6,1158.2L931.4,1142.0Z M948.7,1159.0L956.8,1159.5L953.1,1143.1Z M968.8,1160.9L977.7,1163.0L974.3,1146.0Z M989.4,1165.9L998.3,1168.0L994.8,1150.9Z M1010.1,1170.8L1017.7,1173.3L1015.6,1156.2Z M1029.5,1179.1L1036.8,1182.6L1035.4,1164.9Z M1048.6,1188.4L1056.2,1191.1L1054.2,1174.4Z" fill="#fff" stroke="none"/>
<!-- disk -->
<path d="M772,1274 C776,1255 790,1238 812,1225 C840,1210 870,1198 900,1195" stroke-width="2.4"/>
<path d="M820,1340 C790,1330 775,1300 775,1275 C775,1240 830,1215 890,1215 L903,1215 L965,1215 L980,1230 L984,1252 L1002,1265 L1035,1292 L1036,1303 C1020,1330 990,1350 951,1356 C920,1362 870,1360 820,1340 Z"/>
<path d="M822,1337 C795,1327 778,1300 778,1275 C778,1242 832,1219 890,1218 L903,1218 L963,1218 L977,1232 L981,1254 L1000,1268 L1033,1294 C1020,1325 990,1347 951,1353 C920,1359 870,1357 822,1337 Z" fill="url(#sd)" stroke="none"/>
<path d="M902,1195 L965,1205 L995,1216 L997,1242 L1010,1252 L1040,1280 L1043,1292 L1035,1292 L1002,1265 L984,1252 L980,1230 L965,1215 L902,1215 Z" fill="#000"/>
<path d="M1043,1285 L1045,1274 L1053,1269 L1102,1257"/>

<g stroke-width="2.4">
<ellipse cx="757" cy="1247" rx="6" ry="4"/><ellipse cx="790" cy="1335" rx="3.5" ry="6"/>
<ellipse cx="869" cy="1370" rx="6" ry="4"/><ellipse cx="1066" cy="1296" rx="6" ry="4"/>
<ellipse cx="895" cy="1175" rx="3.5" ry="6"/><ellipse cx="965" cy="1186" rx="6" ry="4"/>
<ellipse cx="1141" cy="1231" rx="7" ry="5"/>
</g>
<path d="M1108,1260 L1120,1252 L1122,1290 L1112,1318" />
<path d="M1108,1270 L1120,1270 M1109,1280 L1120,1280 M1109,1290 L1120,1290 M1110,1300 L1118,1300" stroke-width="2"/>
<!-- side rails -->
<path d="M957,1450 L1040,1375 L1200,1262 Q1245,1232 1250,1222 Q1258,1208 1262,1192"/>
<path d="M955,1462 C958,1450 965,1446 975,1441 L1230,1274 Q1262,1254 1270,1240 Q1278,1222 1280,1205"/>
<path d="M960,1460 L1230,1282" stroke-width="1.5" stroke-dasharray="12,6"/>
<path d="M962,1465 L1230,1299 Q1275,1270 1284,1255 Q1292,1238 1295,1215"/>
<path d="M1000,1464 L1010,1448 L1230,1325 Q1290,1290 1300,1270 Q1308,1250 1310,1230"/>
<path d="M1005,1458 L1230,1333" stroke-width="1.5" stroke-dasharray="14,6"/>
<path d="M1010,1462 L1051,1453 L1062,1441 L1230,1345 Q1298,1308 1308,1290 Q1316,1270 1318,1250"/>
<path d="M1067,1446 L1110,1430 L1230,1361 L1320,1310 L1306,1429"/>
<path d="M961,1469 L1000,1464 L1051,1453 L1070,1443"/>
<!-- black front-right bar -->
<path d="M916,1481 L925,1471 L936,1469 L961,1469 L961,1581 L916,1581 Z" fill="#000"/>
<!-- deck surface edges -->
<path d="M705,1605 L880,1480 L936,1438 L1026,1378 L1111,1323 L1230,1250" />
<path d="M702,1607 L722,1596" stroke-width="7"/>
<!-- front left deck -->
<path d="M567,1240 L380,1397 L377,1405 L372,1440"/>
<path d="M562,1246 L384,1396" stroke-width="1.6"/>
<path d="M565,1277 L382,1415"/>
<path d="M382,1422 L712,1617 L710,1650 L370,1450 Z"/>
<path d="M384,1425 L710,1620 L708,1647 L372,1449 Z" fill="url(#sx)" stroke="none"/>
<path d="M372,1440 L358,1445 L352,1455 L350,1488"/>
<path d="M357,1450 L712,1657"/>
<path d="M357,1462 L705,1670"/>
<path d="M352,1474 L710,1684" stroke-width="3.5"/>
<path d="M350,1486 L470,1563 L705,1697" stroke-width="6"/>
<!-- front right corner details -->
<path d="M712,1657 L740,1650 L770,1638 L800,1625"/>
<path d="M710,1684 L735,1672 L770,1660 L795,1650"/>
<path d="M705,1697 L712,1712 L722,1722 L740,1718 L742,1688"/>
<path d="M745,1690 L760,1697 L757,1710 L745,1705 Z" fill="#000"/>
<path d="M752,1570 L765,1562 L795,1575 L797,1605 L782,1612 L752,1600 Z" fill="#fff"/>
<path d="M752,1572 L772,1580 L772,1610 L752,1600 Z" fill="#000"/>
<path d="M800,1592 Q805,1585 812,1590 L818,1600 L825,1610 L827,1650 Q822,1660 815,1655 L808,1630 L800,1605 Z"/>
<ellipse cx="812" cy="1604" rx="3" ry="5" fill="#000"/><ellipse cx="818" cy="1620" rx="3" ry="5" fill="#000"/><ellipse cx="820" cy="1638" rx="3" ry="5" fill="#000"/>
<path d="M770,1640 L780,1650 L790,1660 L800,1670 M775,1660 L785,1680 L795,1690" stroke-width="2"/>
<!-- right side skirt -->
<path d="M920,1594 C960,1592 1000,1589 1030,1585 C1070,1579 1100,1572 1130,1560 C1180,1535 1230,1495 1286,1452 L1372,1403"/>
<path d="M918,1603 C960,1600 1000,1597 1040,1591 C1080,1585 1110,1578 1140,1566 C1190,1540 1240,1500 1290,1463 L1372,1414" stroke-width="2.2"/>
<path d="M915,1614 C960,1612 1000,1610 1050,1603 C1090,1596 1120,1586 1150,1572 C1200,1548 1245,1515 1290,1483 L1372,1426" stroke-width="2.6"/>
<path d="M920,1592 L802,1672 L797,1687"/>
<path d="M918,1602 L806,1677"/>
<path d="M915,1612 L805,1690 L800,1700"/>
<path d="M961,1581 L1040,1570 L1140,1540 L1230,1482 L1306,1429"/>
<!-- right side panel & rack -->
<path d="M1310,1007 L1262,1247" stroke-width="3"/>
<path d="M1310,1007 L1335,1020 L1367,1065"/>
<path d="M1312,1012 L1334,1022 L1366,1066 L1352,1170 L1340,1250 L1330,1300 L1262,1250 Z" fill="url(#st)" stroke="none"/>
<path d="M1367,1065 L1320,1372" stroke-width="4.5"/>
<path d="M1397,1000 L1325,1372"/>
<path d="M1432,1000 L1362,1390"/>
<path d="M1393,1013 L1400,1016" stroke-width="2"/><ellipse cx="1401" cy="1017" rx="3.5" ry="2.5" transform="rotate(25 1401 1017)" fill="#000"/><path d="M1388,1040 L1395,1043" stroke-width="2"/><ellipse cx="1396" cy="1044" rx="3.5" ry="2.5" transform="rotate(25 1396 1044)" fill="#000"/><path d="M1382,1068 L1389,1071" stroke-width="2"/><ellipse cx="1390" cy="1072" rx="3.5" ry="2.5" transform="rotate(25 1390 1072)" fill="#000"/><path d="M1377,1094 L1384,1097" stroke-width="2"/><ellipse cx="1385" cy="1098" rx="3.5" ry="2.5" transform="rotate(25 1385 1098)" fill="#000"/><path d="M1372,1120 L1379,1123" stroke-width="2"/><ellipse cx="1380" cy="1124" rx="3.5" ry="2.5" transform="rotate(25 1380 1124)" fill="#000"/><path d="M1367,1150 L1374,1153" stroke-width="2"/><ellipse cx="1375" cy="1154" rx="3.5" ry="2.5" transform="rotate(25 1375 1154)" fill="#000"/><path d="M1361,1180 L1368,1183" stroke-width="2"/><ellipse cx="1369" cy="1184" rx="3.5" ry="2.5" transform="rotate(25 1369 1184)" fill="#000"/><path d="M1355,1208 L1362,1211" stroke-width="2"/><ellipse cx="1363" cy="1212" rx="3.5" ry="2.5" transform="rotate(25 1363 1212)" fill="#000"/><path d="M1350,1235 L1357,1238" stroke-width="2"/><ellipse cx="1358" cy="1239" rx="3.5" ry="2.5" transform="rotate(25 1358 1239)" fill="#000"/><path d="M1346,1258 L1353,1261" stroke-width="2"/><ellipse cx="1354" cy="1262" rx="3.5" ry="2.5" transform="rotate(25 1354 1262)" fill="#000"/><path d="M1341,1283 L1348,1286" stroke-width="2"/><ellipse cx="1349" cy="1287" rx="3.5" ry="2.5" transform="rotate(25 1349 1287)" fill="#000"/><path d="M1336,1308 L1343,1311" stroke-width="2"/><ellipse cx="1344" cy="1312" rx="3.5" ry="2.5" transform="rotate(25 1344 1312)" fill="#000"/><path d="M1332,1330 L1339,1333" stroke-width="2"/><ellipse cx="1340" cy="1334" rx="3.5" ry="2.5" transform="rotate(25 1340 1334)" fill="#000"/><path d="M1327,1353 L1334,1356" stroke-width="2"/><ellipse cx="1335" cy="1357" rx="3.5" ry="2.5" transform="rotate(25 1335 1357)" fill="#000"/>
<path d="M1325,1372 L1375,1395 L1375,1410"/>
<path d="M1505,1065 C1470,1080 1440,1105 1425,1127 C1410,1150 1400,1175 1395,1200 C1388,1235 1385,1270 1382,1325"/>
<path d="M1492,1000 L1552,1215 L1545,1222"/>
<path d="M1485,1015 L1540,1212" stroke-width="4"/>
<!-- rear bracket + wheel mount -->
<path d="M1472,1162 L1492,1158 L1500,1158 L1501,1169 L1511,1172 L1511,1188 L1516,1189 L1518,1208 L1518,1216 L1511,1225 L1501,1218 L1500,1206 L1490,1195 L1486,1180 L1483,1173 L1473,1169 Z" stroke-width="3"/>
<ellipse cx="1491" cy="1171" rx="3" ry="5" fill="#000"/><ellipse cx="1501" cy="1183" rx="3" ry="5" fill="#000"/><ellipse cx="1508" cy="1198" rx="3" ry="5" fill="#000"/><ellipse cx="1513" cy="1217" rx="4" ry="5" fill="#000"/>
<path d="M1423,1206 L1409,1223 L1398,1244 L1389,1272 L1379,1310 L1387,1310 L1394,1291 L1401,1263 L1408,1244 L1417,1225 L1428,1211 Z" fill="#000" stroke="none"/>
<path d="M1423,1206 L1436,1196 L1450,1195 L1459,1201 L1465,1205"/>
<path d="M1430,1212 L1445,1204 L1460,1204 L1468,1210 L1492,1238 L1496,1240 L1540,1214"/>
<path d="M1438,1218 L1459,1217 L1487,1246 L1492,1248 L1548,1216" stroke-width="3"/>
<path d="M1442,1226 L1455,1226 L1483,1256 L1488,1258 L1547,1220" />
<path d="M1487,1258 L1547,1220" stroke-width="2"/>
<path d="M1434,1235 L1440,1225 L1452,1228 L1448,1240 L1440,1258 L1432,1255 Z" fill="#000" stroke="none"/>
<path d="M1448,1246 L1447,1265 L1452,1268 L1462,1264" stroke-width="2.4"/>
<path d="M1473,1255 L1474,1262 L1480,1266 L1488,1262" stroke-width="2.4"/>
<path d="M1440,1262 L1440,1280 M1440,1288 L1440,1292" stroke-width="3"/>
<path d="M1416,1240 L1410,1265 L1407,1290 L1403,1305" stroke-width="2"/>
<path d="M1422,1245 L1416,1272 L1414,1290" stroke-width="2"/>
<path d="M1515,1208 L1538,1195 M1524,1150 L1543,1199 L1546,1205 M1534,1150 L1556,1216 L1555,1220 L1546,1222" stroke-width="2.4"/>
<path d="M1526,1158 L1542,1200" stroke-width="4"/>
<path d="M450,1310 L467,1317 L465,1322" stroke-width="3"/>

<!-- p3 -->
<!-- part 3 -->
<path d="M895,560 L905,556 L912,560 L915,567 L910,577 L902,580"/>
<path d="M895,560 L890,564 L832,610 L815,627 L812,632"/>
<path d="M897,577 L845,615"/>
<path d="M840,606 L850,612 L846,622 L836,618 Z" fill="none" stroke-width="2"/>
<path d="M812,630 L827,632 L721,945 L712,966 L703,966 L702,958 Z" fill="#000" stroke="none"/>
<path d="M889,580 L900,584 L783,930 L772,930 Z" fill="#000" stroke="none"/>
<path d="M786,808 L796,810 L755,935 L745,935 Z" fill="#000" stroke="none"/>
<path d="M852,612 L834,680 M830,695 L796,806" stroke-width="3.4"/>
<path d="M832,618 L800,720 L780,800" stroke-width="1.6"/>
<path d="M705,965 L745,945 L772,937 L780,932"/>
<path d="M719,955 L745,945 L747,952 L722,962 Z M753,940 L772,933 L774,940 L756,947 Z" fill="#fff" stroke-width="2"/>
<path d="M812,688 L850,688 M782,801 L815,800" stroke-width="2.4"/>
<circle cx="832" cy="687" r="6" fill="#fff" stroke-width="2.4"/>
<circle cx="832" cy="688" r="2.2" fill="#000"/>
<circle cx="792" cy="800" r="6" fill="#fff" stroke-width="2.4"/>
<circle cx="792" cy="801" r="2.2" fill="#000"/>
<path d="M762,829 L775,823" stroke-width="1.5"/>
<path d="M770,719 L777,721" stroke-width="1.5"/>

<!-- p2 -->
<!-- part 2 -->
<path d="M1680,1060 L1690,1051 L1700,1055 L1705,1065 L1702,1080 L1695,1085 L1690,1087"/>
<path d="M1615,1125 L1680,1062 M1635,1130 L1695,1065 M1630,1162 L1690,1097"/>
<path d="M1605,1140 L1605,1135 L1615,1125 L1625,1125 L1630,1135 L1630,1150 L1627,1165 L1620,1170 L1615,1160 L1607,1147 Z"/>
<path d="M1620,1130 L1628,1135 L1628,1150 Z" fill="#000"/>
<path d="M1613,1160 L1627,1164 L1594,1340 L1559,1528 L1549,1529 L1548,1512 L1583,1340 Z" fill="#000" stroke="none"/>
<path d="M1692,1090 L1647,1375 L1618,1497 L1584,1516"/>
<path d="M1575,1521 L1564,1528" stroke-width="2"/>
<path d="M1588,1404 L1645,1374"/>
<ellipse cx="1647" cy="1230" rx="3" ry="5" fill="#000" transform="rotate(15 1647 1230)"/>
<ellipse cx="1626" cy="1365" rx="3" ry="5" fill="#000" transform="rotate(15 1626 1365)"/>
<path d="M1655,1336 L1665,1337" stroke-width="2"/>
<!-- screw 7 near 2 -->
<path d="M1690,1258 L1700,1266" stroke-width="3"/>
<circle cx="1703" cy="1269" r="4.5" fill="#000"/>
<path d="M1707,1270 L1720,1270" stroke-width="2"/>

<!-- small -->
<!-- part 8 -->
<path d="M340,1662 L365,1640 L420,1670 L425,1669 L440,1666 L455,1667 L467,1677 L471,1687 L470,1700 L526,1735 L527,1741 L502,1762 L340,1665 Z"/>
<!-- part 6 bottom -->
<path d="M793,1782 L873,1735 L885,1738 L888,1745 L807,1790 L797,1788 Z"/>
<path d="M818,1757 L823,1747 L843,1738 L848,1743 L846,1749"/>
<path d="M803,1782 L880,1741" stroke-width="1.8"/>
<circle cx="806" cy="1779" r="2" fill="#000"/><circle cx="874" cy="1742" r="2" fill="#000"/>
<path d="M780,1780 L793,1782" stroke-width="2"/>
<path d="M805,1791 L805,1810" stroke-width="2.4"/>
<circle cx="805" cy="1819" r="6" fill="#000" stroke-width="2"/>
<ellipse cx="804" cy="1816" rx="3" ry="2" fill="#fff" stroke="none"/>
<!-- part 5 bottom -->
<g stroke-width="3.2">
<path d="M915,1750 Q916,1728 935,1717 Q948,1712 953,1718 L955,1725"/>
<path d="M927,1762 Q926,1740 945,1729 Q962,1722 968,1735 L970,1747 L965,1755 L960,1752"/>
<path d="M932,1758 Q933,1745 945,1737 M936,1760 Q938,1750 950,1742"/>
<path d="M937,1762 L957,1782"/>
</g>
<!-- part 6 right -->
<path d="M1432,1302 L1490,1272 L1500,1275 L1497,1282 L1442,1312 L1432,1305 Z"/>
<path d="M1432,1302 L1438,1299 L1452,1308 L1442,1312 Z" fill="#000" stroke-width="2"/>
<path d="M1489,1271 L1496,1268 L1509,1279 L1501,1282 Z" fill="#000" stroke-width="2"/>
<path d="M1502,1277 L1510,1277" stroke-width="2"/>
<!-- part 5 right -->
<g stroke-width="3.2">
<path d="M1427,1415 Q1427,1392 1440,1383 Q1450,1377 1461,1379 L1462,1390"/>
<path d="M1438,1429 Q1438,1408 1452,1396 Q1465,1390 1475,1397 Q1481,1405 1480,1418 L1475,1421 L1470,1418"/>
<path d="M1444,1428 Q1446,1410 1460,1400 M1449,1432 Q1452,1418 1464,1410"/>
<path d="M1448,1437 L1466,1449"/>
</g>

<!-- labels -->
<g stroke="none">
<text transform="translate(1094.4,186.0) scale(1.056,1)" font-size="36.3">7</text>
<text transform="translate(1110.9,411.7) scale(1.053,1)" font-size="31.0">23</text>
<text transform="translate(1094.6,451.0) scale(0.916,1)" font-size="34.9">7</text>
<text x="2111.0" y="264.6" font-size="32.4">53</text>
<text transform="translate(2130.1,330.7) scale(1.088,1)" font-size="28.2">52</text>
<text x="1679.1" y="647.7" font-size="30.1">54</text>
<text transform="translate(2245.2,751.7) scale(0.835,1)" font-size="33.0">51</text>
<text x="2030.0" y="1009.7" font-size="32.5">56</text>
<text transform="translate(751.1,726.6) scale(1.179,1)" font-size="32.4">3</text>
<text x="1223.5" y="1042.0" font-size="30.5">4</text>
<text x="1145.5" y="1095.0" font-size="33.4">7</text>
<text transform="translate(437.4,1310.0) scale(0.739,1)" font-size="34.9">1</text>
<text x="1667.8" y="1346.0" font-size="34.4">2</text>
<text transform="translate(1723.7,1278.0) scale(0.892,1)" font-size="33.4">7</text>
<text transform="translate(1513.8,1286.7) scale(1.065,1)" font-size="31.1">6</text>
<text x="1471.7" y="1472.6" font-size="41.6">5</text>
<text transform="translate(407.5,1765.6) scale(1.064,1)" font-size="43.8">8</text>
<text transform="translate(750.2,1799.6) scale(1.172,1)" font-size="42.4">6</text>
<text transform="translate(819.4,1837.6) scale(1.148,1)" font-size="39.5">9</text>
<text x="963.6" y="1807.5" font-size="47.3">5</text>
</g>


</g>
</svg>
</body></html>
